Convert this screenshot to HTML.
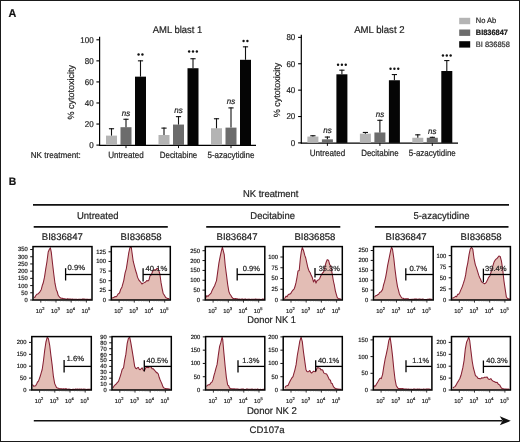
<!DOCTYPE html>
<html><head><meta charset="utf-8"><style>
html,body{margin:0;padding:0;background:#fff;}
body{width:520px;height:442px;overflow:hidden;}
.fig{position:relative;width:520px;height:442px;box-sizing:border-box;border:1px solid #1a1a1a;background:#fff;}
svg{position:absolute;left:-1px;top:-1px;font-family:"Liberation Sans", sans-serif;will-change:transform;text-rendering:geometricPrecision;}
</style></head><body><div class="fig">
<svg width="520" height="442" viewBox="0 0 520 442">
<text transform="translate(8.6,16.8) scale(1,1.05)" font-size="10.8" text-anchor="start" font-weight="bold" fill="#111" stroke="#222" stroke-width="0.2">A</text>
<text transform="translate(8.8,185.4) scale(1,1.05)" font-size="10.4" text-anchor="start" font-weight="bold" fill="#111" stroke="#222" stroke-width="0.2">B</text>
<line x1="99.6" y1="36.8" x2="99.6" y2="145.6" stroke="#000" stroke-width="1.2"/>
<line x1="99.1" y1="145.29999999999998" x2="256" y2="145.29999999999998" stroke="#000" stroke-width="1.3"/>
<line x1="96.4" y1="145.1" x2="100" y2="145.1" stroke="#000" stroke-width="1.1"/>
<text transform="translate(93.6,147.9) scale(1,1.05)" font-size="8.0" text-anchor="end" fill="#1e1e1e" stroke="#222" stroke-width="0.2">0</text>
<line x1="96.4" y1="124.03999999999999" x2="100" y2="124.03999999999999" stroke="#000" stroke-width="1.1"/>
<text transform="translate(93.6,126.83999999999999) scale(1,1.05)" font-size="8.0" text-anchor="end" fill="#1e1e1e" stroke="#222" stroke-width="0.2">20</text>
<line x1="96.4" y1="102.97999999999999" x2="100" y2="102.97999999999999" stroke="#000" stroke-width="1.1"/>
<text transform="translate(93.6,105.77999999999999) scale(1,1.05)" font-size="8.0" text-anchor="end" fill="#1e1e1e" stroke="#222" stroke-width="0.2">40</text>
<line x1="96.4" y1="81.92" x2="100" y2="81.92" stroke="#000" stroke-width="1.1"/>
<text transform="translate(93.6,84.72) scale(1,1.05)" font-size="8.0" text-anchor="end" fill="#1e1e1e" stroke="#222" stroke-width="0.2">60</text>
<line x1="96.4" y1="60.86" x2="100" y2="60.86" stroke="#000" stroke-width="1.1"/>
<text transform="translate(93.6,63.66) scale(1,1.05)" font-size="8.0" text-anchor="end" fill="#1e1e1e" stroke="#222" stroke-width="0.2">80</text>
<line x1="96.4" y1="39.8" x2="100" y2="39.8" stroke="#000" stroke-width="1.1"/>
<text transform="translate(93.6,42.599999999999994) scale(1,1.05)" font-size="8.0" text-anchor="end" fill="#1e1e1e" stroke="#222" stroke-width="0.2">100</text>
<text x="0" y="0" font-size="9.0" text-anchor="middle" fill="#1e1e1e" stroke="#222" stroke-width="0.2" textLength="54.4" lengthAdjust="spacingAndGlyphs" transform="translate(74.1,92.2) rotate(-90)">% cytotoxicity</text>
<text transform="translate(152.7,33.2) scale(1,1.05)" font-size="9.4" text-anchor="start" fill="#1e1e1e" textLength="49.6" lengthAdjust="spacingAndGlyphs" stroke="#222" stroke-width="0.2">AML blast 1</text>
<rect x="106.0" y="135.623" width="11" height="9.477000000000004" fill="#b4b4b4"/>
<line x1="111.5" y1="128.252" x2="111.5" y2="135.623" stroke="#111" stroke-width="1.1"/>
<line x1="108.9" y1="128.752" x2="114.1" y2="128.752" stroke="#111" stroke-width="1.1"/>
<rect x="120.5" y="127.199" width="11" height="17.900999999999996" fill="#6c6c6c"/>
<line x1="126.0" y1="118.77499999999999" x2="126.0" y2="127.199" stroke="#111" stroke-width="1.1"/>
<line x1="123.4" y1="119.27499999999999" x2="128.6" y2="119.27499999999999" stroke="#111" stroke-width="1.1"/>
<rect x="135.0" y="76.655" width="11" height="68.445" fill="#050505"/>
<line x1="140.5" y1="60.3335" x2="140.5" y2="76.655" stroke="#111" stroke-width="1.1"/>
<line x1="137.9" y1="60.8335" x2="143.1" y2="60.8335" stroke="#111" stroke-width="1.1"/>
<line x1="126" y1="145.1" x2="126" y2="148.1" stroke="#111" stroke-width="1"/>
<text transform="translate(126,115.57499999999999) scale(1,1.05)" font-size="8" text-anchor="middle" font-style="italic" fill="#1e1e1e" stroke="#222" stroke-width="0.2">ns</text>
<circle cx="138.57" cy="54.5" r="1.2" fill="#111"/>
<circle cx="142.43" cy="54.5" r="1.2" fill="#111"/>
<text transform="translate(126,158.3) scale(1,1.05)" font-size="8.5" text-anchor="middle" fill="#1e1e1e" textLength="35.5" lengthAdjust="spacingAndGlyphs" stroke="#222" stroke-width="0.2">Untreated</text>
<rect x="158.5" y="134.9912" width="11" height="10.108800000000002" fill="#b4b4b4"/>
<line x1="164.0" y1="127.6202" x2="164.0" y2="134.9912" stroke="#111" stroke-width="1.1"/>
<line x1="161.4" y1="128.1202" x2="166.6" y2="128.1202" stroke="#111" stroke-width="1.1"/>
<rect x="173.0" y="124.56649999999999" width="11" height="20.533500000000004" fill="#6c6c6c"/>
<line x1="178.5" y1="116.1425" x2="178.5" y2="124.56649999999999" stroke="#111" stroke-width="1.1"/>
<line x1="175.9" y1="116.6425" x2="181.1" y2="116.6425" stroke="#111" stroke-width="1.1"/>
<rect x="187.5" y="68.231" width="11" height="76.869" fill="#050505"/>
<line x1="193.0" y1="58.227500000000006" x2="193.0" y2="68.231" stroke="#111" stroke-width="1.1"/>
<line x1="190.4" y1="58.727500000000006" x2="195.6" y2="58.727500000000006" stroke="#111" stroke-width="1.1"/>
<line x1="178.5" y1="145.1" x2="178.5" y2="148.1" stroke="#111" stroke-width="1"/>
<text transform="translate(178.5,112.9425) scale(1,1.05)" font-size="8" text-anchor="middle" font-style="italic" fill="#1e1e1e" stroke="#222" stroke-width="0.2">ns</text>
<circle cx="189.15" cy="51.5" r="1.2" fill="#111"/>
<circle cx="193.00" cy="51.5" r="1.2" fill="#111"/>
<circle cx="196.85" cy="51.5" r="1.2" fill="#111"/>
<text transform="translate(178.5,158.3) scale(1,1.05)" font-size="8.5" text-anchor="middle" fill="#1e1e1e" textLength="37.5" lengthAdjust="spacingAndGlyphs" stroke="#222" stroke-width="0.2">Decitabine</text>
<rect x="211.0" y="128.252" width="11" height="16.847999999999985" fill="#b4b4b4"/>
<line x1="216.5" y1="118.24849999999999" x2="216.5" y2="128.252" stroke="#111" stroke-width="1.1"/>
<line x1="213.9" y1="118.74849999999999" x2="219.1" y2="118.74849999999999" stroke="#111" stroke-width="1.1"/>
<rect x="225.5" y="127.6202" width="11" height="17.479799999999997" fill="#6c6c6c"/>
<line x1="231.0" y1="107.4026" x2="231.0" y2="127.6202" stroke="#111" stroke-width="1.1"/>
<line x1="228.4" y1="107.9026" x2="233.6" y2="107.9026" stroke="#111" stroke-width="1.1"/>
<rect x="240.0" y="59.807" width="11" height="85.29299999999999" fill="#050505"/>
<line x1="245.5" y1="46.32860000000001" x2="245.5" y2="59.807" stroke="#111" stroke-width="1.1"/>
<line x1="242.9" y1="46.82860000000001" x2="248.1" y2="46.82860000000001" stroke="#111" stroke-width="1.1"/>
<line x1="231" y1="145.1" x2="231" y2="148.1" stroke="#111" stroke-width="1"/>
<text transform="translate(231,104.2026) scale(1,1.05)" font-size="8" text-anchor="middle" font-style="italic" fill="#1e1e1e" stroke="#222" stroke-width="0.2">ns</text>
<circle cx="243.57" cy="41" r="1.2" fill="#111"/>
<circle cx="247.43" cy="41" r="1.2" fill="#111"/>
<text transform="translate(231,158.3) scale(1,1.05)" font-size="8.5" text-anchor="middle" fill="#1e1e1e" textLength="47" lengthAdjust="spacingAndGlyphs" stroke="#222" stroke-width="0.2">5-azacytidine</text>
<line x1="301.3" y1="34.8" x2="301.3" y2="143.4" stroke="#000" stroke-width="1.2"/>
<line x1="300.8" y1="143.1" x2="458" y2="143.1" stroke="#000" stroke-width="1.3"/>
<line x1="298.09999999999997" y1="142.9" x2="301.7" y2="142.9" stroke="#000" stroke-width="1.1"/>
<text transform="translate(295.3,145.70000000000002) scale(1,1.05)" font-size="8.0" text-anchor="end" fill="#1e1e1e" stroke="#222" stroke-width="0.2">0</text>
<line x1="298.09999999999997" y1="116.52000000000001" x2="301.7" y2="116.52000000000001" stroke="#000" stroke-width="1.1"/>
<text transform="translate(295.3,119.32000000000001) scale(1,1.05)" font-size="8.0" text-anchor="end" fill="#1e1e1e" stroke="#222" stroke-width="0.2">20</text>
<line x1="298.09999999999997" y1="90.14000000000001" x2="301.7" y2="90.14000000000001" stroke="#000" stroke-width="1.1"/>
<text transform="translate(295.3,92.94000000000001) scale(1,1.05)" font-size="8.0" text-anchor="end" fill="#1e1e1e" stroke="#222" stroke-width="0.2">40</text>
<line x1="298.09999999999997" y1="63.760000000000005" x2="301.7" y2="63.760000000000005" stroke="#000" stroke-width="1.1"/>
<text transform="translate(295.3,66.56) scale(1,1.05)" font-size="8.0" text-anchor="end" fill="#1e1e1e" stroke="#222" stroke-width="0.2">60</text>
<line x1="298.09999999999997" y1="37.38000000000001" x2="301.7" y2="37.38000000000001" stroke="#000" stroke-width="1.1"/>
<text transform="translate(295.3,40.18000000000001) scale(1,1.05)" font-size="8.0" text-anchor="end" fill="#1e1e1e" stroke="#222" stroke-width="0.2">80</text>
<text x="0" y="0" font-size="9.0" text-anchor="middle" fill="#1e1e1e" stroke="#222" stroke-width="0.2" textLength="54.4" lengthAdjust="spacingAndGlyphs" transform="translate(280.2,89.95) rotate(-90)">% cytotoxicity</text>
<text transform="translate(354.2,33.2) scale(1,1.05)" font-size="9.4" text-anchor="start" fill="#1e1e1e" textLength="50.4" lengthAdjust="spacingAndGlyphs" stroke="#222" stroke-width="0.2">AML blast 2</text>
<rect x="307.4" y="136.5688" width="11" height="6.3311999999999955" fill="#b4b4b4"/>
<line x1="312.9" y1="135.2498" x2="312.9" y2="136.5688" stroke="#111" stroke-width="1.1"/>
<line x1="310.29999999999995" y1="135.7498" x2="315.5" y2="135.7498" stroke="#111" stroke-width="1.1"/>
<rect x="321.9" y="139.33870000000002" width="11" height="3.5612999999999886" fill="#6c6c6c"/>
<line x1="327.4" y1="136.5688" x2="327.4" y2="139.33870000000002" stroke="#111" stroke-width="1.1"/>
<line x1="324.79999999999995" y1="137.0688" x2="330.0" y2="137.0688" stroke="#111" stroke-width="1.1"/>
<rect x="336.4" y="74.31200000000001" width="11" height="68.588" fill="#050505"/>
<line x1="341.9" y1="69.69550000000001" x2="341.9" y2="74.31200000000001" stroke="#111" stroke-width="1.1"/>
<line x1="339.29999999999995" y1="70.19550000000001" x2="344.5" y2="70.19550000000001" stroke="#111" stroke-width="1.1"/>
<line x1="327.4" y1="142.9" x2="327.4" y2="145.9" stroke="#111" stroke-width="1"/>
<text transform="translate(327.4,133.36880000000002) scale(1,1.05)" font-size="8" text-anchor="middle" font-style="italic" fill="#1e1e1e" stroke="#222" stroke-width="0.2">ns</text>
<circle cx="338.05" cy="64.7" r="1.2" fill="#111"/>
<circle cx="341.90" cy="64.7" r="1.2" fill="#111"/>
<circle cx="345.75" cy="64.7" r="1.2" fill="#111"/>
<text transform="translate(327.4,155.8) scale(1,1.05)" font-size="8.5" text-anchor="middle" fill="#1e1e1e" textLength="35.5" lengthAdjust="spacingAndGlyphs" stroke="#222" stroke-width="0.2">Untreated</text>
<rect x="359.9" y="133.667" width="11" height="9.233000000000004" fill="#b4b4b4"/>
<line x1="365.4" y1="131.9523" x2="365.4" y2="133.667" stroke="#111" stroke-width="1.1"/>
<line x1="362.79999999999995" y1="132.4523" x2="368.0" y2="132.4523" stroke="#111" stroke-width="1.1"/>
<rect x="374.4" y="132.47990000000001" width="11" height="10.42009999999999" fill="#6c6c6c"/>
<line x1="379.9" y1="119.81750000000001" x2="379.9" y2="132.47990000000001" stroke="#111" stroke-width="1.1"/>
<line x1="377.29999999999995" y1="120.31750000000001" x2="382.5" y2="120.31750000000001" stroke="#111" stroke-width="1.1"/>
<rect x="388.9" y="80.2475" width="11" height="62.6525" fill="#050505"/>
<line x1="394.4" y1="74.04820000000001" x2="394.4" y2="80.2475" stroke="#111" stroke-width="1.1"/>
<line x1="391.79999999999995" y1="74.54820000000001" x2="397.0" y2="74.54820000000001" stroke="#111" stroke-width="1.1"/>
<line x1="379.9" y1="142.9" x2="379.9" y2="145.9" stroke="#111" stroke-width="1"/>
<text transform="translate(379.9,116.6175) scale(1,1.05)" font-size="8" text-anchor="middle" font-style="italic" fill="#1e1e1e" stroke="#222" stroke-width="0.2">ns</text>
<circle cx="390.55" cy="68.8" r="1.2" fill="#111"/>
<circle cx="394.40" cy="68.8" r="1.2" fill="#111"/>
<circle cx="398.25" cy="68.8" r="1.2" fill="#111"/>
<text transform="translate(379.9,155.8) scale(1,1.05)" font-size="8.5" text-anchor="middle" fill="#1e1e1e" textLength="37.5" lengthAdjust="spacingAndGlyphs" stroke="#222" stroke-width="0.2">Decitabine</text>
<rect x="412.3" y="137.7559" width="11" height="5.144100000000009" fill="#b4b4b4"/>
<line x1="417.8" y1="134.3265" x2="417.8" y2="137.7559" stroke="#111" stroke-width="1.1"/>
<line x1="415.2" y1="134.8265" x2="420.40000000000003" y2="134.8265" stroke="#111" stroke-width="1.1"/>
<rect x="426.8" y="137.7559" width="11" height="5.144100000000009" fill="#6c6c6c"/>
<line x1="432.3" y1="136.8326" x2="432.3" y2="137.7559" stroke="#111" stroke-width="1.1"/>
<line x1="429.7" y1="137.3326" x2="434.90000000000003" y2="137.3326" stroke="#111" stroke-width="1.1"/>
<rect x="441.3" y="71.01450000000001" width="11" height="71.8855" fill="#050505"/>
<line x1="446.8" y1="60.066800000000015" x2="446.8" y2="71.01450000000001" stroke="#111" stroke-width="1.1"/>
<line x1="444.2" y1="60.566800000000015" x2="449.40000000000003" y2="60.566800000000015" stroke="#111" stroke-width="1.1"/>
<line x1="432.3" y1="142.9" x2="432.3" y2="145.9" stroke="#111" stroke-width="1"/>
<text transform="translate(432.3,133.63260000000002) scale(1,1.05)" font-size="8" text-anchor="middle" font-style="italic" fill="#1e1e1e" stroke="#222" stroke-width="0.2">ns</text>
<circle cx="442.95" cy="55.5" r="1.2" fill="#111"/>
<circle cx="446.80" cy="55.5" r="1.2" fill="#111"/>
<circle cx="450.65" cy="55.5" r="1.2" fill="#111"/>
<text transform="translate(432.3,155.8) scale(1,1.05)" font-size="8.5" text-anchor="middle" fill="#1e1e1e" textLength="47" lengthAdjust="spacingAndGlyphs" stroke="#222" stroke-width="0.2">5-azacytidine</text>
<text transform="translate(30.7,158) scale(1,1.05)" font-size="8.3" text-anchor="start" fill="#1e1e1e" textLength="50" lengthAdjust="spacingAndGlyphs" stroke="#222" stroke-width="0.2">NK treatment:</text>
<rect x="459.2" y="17.8" width="11" height="6.4" fill="#b4b4b4"/>
<text transform="translate(475.8,23.4) scale(1,1.05)" font-size="7.4" text-anchor="start" fill="#2a2a2a" textLength="20.4" lengthAdjust="spacingAndGlyphs" stroke="#222" stroke-width="0.2">No Ab</text>
<rect x="459.2" y="29.5" width="11" height="6.4" fill="#6c6c6c"/>
<text transform="translate(475.8,35.1) scale(1,1.05)" font-size="7.4" text-anchor="start" font-weight="bold" fill="#111" textLength="32.1" lengthAdjust="spacingAndGlyphs" stroke="#222" stroke-width="0.2">BI836847</text>
<rect x="459.2" y="41.2" width="11" height="6.4" fill="#050505"/>
<text transform="translate(475.8,46.800000000000004) scale(1,1.05)" font-size="7.4" text-anchor="start" fill="#333" textLength="34.1" lengthAdjust="spacingAndGlyphs" stroke="#222" stroke-width="0.2">BI 836858</text>
<text transform="translate(243,196.6) scale(1,1.05)" font-size="9.3" text-anchor="start" fill="#1e1e1e" textLength="55.4" lengthAdjust="spacingAndGlyphs" stroke="#222" stroke-width="0.2">NK treatment</text>
<line x1="33" y1="204.9" x2="509" y2="204.9" stroke="#111" stroke-width="1.6"/>
<text transform="translate(76.9,219.4) scale(1,1.05)" font-size="9.5" text-anchor="start" fill="#1e1e1e" textLength="41.6" lengthAdjust="spacingAndGlyphs" stroke="#222" stroke-width="0.2">Untreated</text>
<line x1="33.7" y1="226.9" x2="167.8" y2="226.9" stroke="#111" stroke-width="1.6"/>
<text transform="translate(250.3,219.4) scale(1,1.05)" font-size="9.5" text-anchor="start" fill="#1e1e1e" textLength="44.7" lengthAdjust="spacingAndGlyphs" stroke="#222" stroke-width="0.2">Decitabine</text>
<line x1="206.2" y1="226.9" x2="340.3" y2="226.9" stroke="#111" stroke-width="1.6"/>
<text transform="translate(413.4,219.4) scale(1,1.05)" font-size="9.5" text-anchor="start" fill="#1e1e1e" textLength="56.1" lengthAdjust="spacingAndGlyphs" stroke="#222" stroke-width="0.2">5-azacytidine</text>
<line x1="374.9" y1="226.9" x2="508.5" y2="226.9" stroke="#111" stroke-width="1.6"/>
<text transform="translate(41.8,239.9) scale(1,1.05)" font-size="9.2" text-anchor="start" fill="#1e1e1e" textLength="41" lengthAdjust="spacingAndGlyphs" stroke="#222" stroke-width="0.2">BI836847</text>
<text transform="translate(120.6,239.9) scale(1,1.05)" font-size="9.2" text-anchor="start" fill="#1e1e1e" textLength="41" lengthAdjust="spacingAndGlyphs" stroke="#222" stroke-width="0.2">BI836858</text>
<text transform="translate(216.5,239.9) scale(1,1.05)" font-size="9.2" text-anchor="start" fill="#1e1e1e" textLength="41" lengthAdjust="spacingAndGlyphs" stroke="#222" stroke-width="0.2">BI836847</text>
<text transform="translate(294.40000000000003,239.9) scale(1,1.05)" font-size="9.2" text-anchor="start" fill="#1e1e1e" textLength="41" lengthAdjust="spacingAndGlyphs" stroke="#222" stroke-width="0.2">BI836858</text>
<text transform="translate(385.6,239.9) scale(1,1.05)" font-size="9.2" text-anchor="start" fill="#1e1e1e" textLength="41" lengthAdjust="spacingAndGlyphs" stroke="#222" stroke-width="0.2">BI836847</text>
<text transform="translate(460.6,239.9) scale(1,1.05)" font-size="9.2" text-anchor="start" fill="#1e1e1e" textLength="41" lengthAdjust="spacingAndGlyphs" stroke="#222" stroke-width="0.2">BI836858</text>
<path d="M33.8,300 L33.9,297.36 L34.93,297.18 L35.97,295.28 L37.0,294.21 L38.25,293.7 L39.5,292.44 L41.3,289.43 L42.25,285.54 L43.2,283.02 L44.5,277.2 L45.7,269.19 L46.9,262.0 L48.2,252.0 L49.4,249.23 L50.4,247.8 L51.3,252.33 L52.5,263.28 L53.8,274.24 L55.0,283.47 L56.3,289.7 L57.25,291.74 L58.2,295.29 L59.4,296.94 L60.6,298.02 L61.67,298.3 L62.73,298.37 L63.8,298.76 L64.73,298.76 L65.67,298.9 L66.6,299.15 L67.53,298.76 L68.47,298.99 L69.4,299.05 L70.33,298.98 L71.27,299.25 L72.2,299.14 L73.13,299.24 L74.07,299.23 L75.0,299.23 L75.91,299.23 L76.82,299.19 L77.73,299.42 L78.64,299.24 L79.55,299.22 L80.45,299.29 L81.36,299.46 L82.27,299.09 L83.18,299.11 L84.09,299.12 L85.0,299.26 L86.0,299.34 L87.0,299.37 L88.0,299.31 L89.0,299.46 L90.0,299.24 L91,299.3 L91,300 Z" fill="#e3bdb5" stroke="none"/>
<path d="M33.9,297.36 L34.93,297.18 L35.97,295.28 L37.0,294.21 L38.25,293.7 L39.5,292.44 L41.3,289.43 L42.25,285.54 L43.2,283.02 L44.5,277.2 L45.7,269.19 L46.9,262.0 L48.2,252.0 L49.4,249.23 L50.4,247.8 L51.3,252.33 L52.5,263.28 L53.8,274.24 L55.0,283.47 L56.3,289.7 L57.25,291.74 L58.2,295.29 L59.4,296.94 L60.6,298.02 L61.67,298.3 L62.73,298.37 L63.8,298.76 L64.73,298.76 L65.67,298.9 L66.6,299.15 L67.53,298.76 L68.47,298.99 L69.4,299.05 L70.33,298.98 L71.27,299.25 L72.2,299.14 L73.13,299.24 L74.07,299.23 L75.0,299.23 L75.91,299.23 L76.82,299.19 L77.73,299.42 L78.64,299.24 L79.55,299.22 L80.45,299.29 L81.36,299.46 L82.27,299.09 L83.18,299.11 L84.09,299.12 L85.0,299.26 L86.0,299.34 L87.0,299.37 L88.0,299.31 L89.0,299.46 L90.0,299.24 L91,299.3 L91,299.2" fill="none" stroke="#862033" stroke-width="1.05" stroke-linejoin="round"/>
<rect x="33" y="246.6" width="59" height="53.400000000000006" fill="none" stroke="#000" stroke-width="1.5"/>
<line x1="30.2" y1="300.0" x2="33" y2="300.0" stroke="#111" stroke-width="1.0"/>
<text transform="translate(27.7,301.95) scale(1,1.05)" font-size="5.8" text-anchor="end" fill="#222" stroke="#222" stroke-width="0.2">0</text>
<line x1="30.2" y1="292.79" x2="33" y2="292.79" stroke="#111" stroke-width="1.0"/>
<text transform="translate(27.7,294.74) scale(1,1.05)" font-size="5.8" text-anchor="end" fill="#222" stroke="#222" stroke-width="0.2">50</text>
<line x1="30.2" y1="285.58" x2="33" y2="285.58" stroke="#111" stroke-width="1.0"/>
<text transform="translate(27.7,287.53) scale(1,1.05)" font-size="5.8" text-anchor="end" fill="#222" stroke="#222" stroke-width="0.2">100</text>
<line x1="30.2" y1="278.37" x2="33" y2="278.37" stroke="#111" stroke-width="1.0"/>
<text transform="translate(27.7,280.32) scale(1,1.05)" font-size="5.8" text-anchor="end" fill="#222" stroke="#222" stroke-width="0.2">150</text>
<line x1="30.2" y1="271.16" x2="33" y2="271.16" stroke="#111" stroke-width="1.0"/>
<text transform="translate(27.7,273.11) scale(1,1.05)" font-size="5.8" text-anchor="end" fill="#222" stroke="#222" stroke-width="0.2">200</text>
<line x1="30.2" y1="263.95" x2="33" y2="263.95" stroke="#111" stroke-width="1.0"/>
<text transform="translate(27.7,265.9) scale(1,1.05)" font-size="5.8" text-anchor="end" fill="#222" stroke="#222" stroke-width="0.2">250</text>
<line x1="30.2" y1="256.74" x2="33" y2="256.74" stroke="#111" stroke-width="1.0"/>
<text transform="translate(27.7,258.69) scale(1,1.05)" font-size="5.8" text-anchor="end" fill="#222" stroke="#222" stroke-width="0.2">300</text>
<line x1="30.2" y1="249.53" x2="33" y2="249.53" stroke="#111" stroke-width="1.0"/>
<text transform="translate(27.7,251.48) scale(1,1.05)" font-size="5.8" text-anchor="end" fill="#222" stroke="#222" stroke-width="0.2">350</text>
<line x1="40.8" y1="300" x2="40.8" y2="302.6" stroke="#222" stroke-width="0.9"/>
<text x="40.199999999999996" y="312.8" font-size="5.8" text-anchor="middle" fill="#222" stroke="#222" stroke-width="0.2">10<tspan font-size="4.0" dy="-2.4">2</tspan></text>
<line x1="45.375655934092514" y1="300" x2="45.375655934092514" y2="301.3" stroke="#444" stroke-width="0.6"/>
<line x1="48.052243071738864" y1="300" x2="48.052243071738864" y2="301.3" stroke="#444" stroke-width="0.6"/>
<line x1="49.95131186818502" y1="300" x2="49.95131186818502" y2="301.3" stroke="#444" stroke-width="0.6"/>
<line x1="51.42434406590748" y1="300" x2="51.42434406590748" y2="301.3" stroke="#444" stroke-width="0.6"/>
<line x1="52.62789900583138" y1="300" x2="52.62789900583138" y2="301.3" stroke="#444" stroke-width="0.6"/>
<line x1="53.6454902082167" y1="300" x2="53.6454902082167" y2="301.3" stroke="#444" stroke-width="0.6"/>
<line x1="54.52696780227754" y1="300" x2="54.52696780227754" y2="301.3" stroke="#444" stroke-width="0.6"/>
<line x1="55.30448614347773" y1="300" x2="55.30448614347773" y2="301.3" stroke="#444" stroke-width="0.6"/>
<line x1="56.0" y1="300" x2="56.0" y2="302.6" stroke="#222" stroke-width="0.9"/>
<text x="55.4" y="312.8" font-size="5.8" text-anchor="middle" fill="#222" stroke="#222" stroke-width="0.2">10<tspan font-size="4.0" dy="-2.4">3</tspan></text>
<line x1="60.57565593409252" y1="300" x2="60.57565593409252" y2="301.3" stroke="#444" stroke-width="0.6"/>
<line x1="63.25224307173887" y1="300" x2="63.25224307173887" y2="301.3" stroke="#444" stroke-width="0.6"/>
<line x1="65.15131186818503" y1="300" x2="65.15131186818503" y2="301.3" stroke="#444" stroke-width="0.6"/>
<line x1="66.62434406590748" y1="300" x2="66.62434406590748" y2="301.3" stroke="#444" stroke-width="0.6"/>
<line x1="67.82789900583138" y1="300" x2="67.82789900583138" y2="301.3" stroke="#444" stroke-width="0.6"/>
<line x1="68.8454902082167" y1="300" x2="68.8454902082167" y2="301.3" stroke="#444" stroke-width="0.6"/>
<line x1="69.72696780227754" y1="300" x2="69.72696780227754" y2="301.3" stroke="#444" stroke-width="0.6"/>
<line x1="70.50448614347773" y1="300" x2="70.50448614347773" y2="301.3" stroke="#444" stroke-width="0.6"/>
<line x1="71.19999999999999" y1="300" x2="71.19999999999999" y2="302.6" stroke="#222" stroke-width="0.9"/>
<text x="70.6" y="312.8" font-size="5.8" text-anchor="middle" fill="#222" stroke="#222" stroke-width="0.2">10<tspan font-size="4.0" dy="-2.4">4</tspan></text>
<line x1="75.7756559340925" y1="300" x2="75.7756559340925" y2="301.3" stroke="#444" stroke-width="0.6"/>
<line x1="78.45224307173886" y1="300" x2="78.45224307173886" y2="301.3" stroke="#444" stroke-width="0.6"/>
<line x1="80.35131186818502" y1="300" x2="80.35131186818502" y2="301.3" stroke="#444" stroke-width="0.6"/>
<line x1="81.82434406590747" y1="300" x2="81.82434406590747" y2="301.3" stroke="#444" stroke-width="0.6"/>
<line x1="83.02789900583137" y1="300" x2="83.02789900583137" y2="301.3" stroke="#444" stroke-width="0.6"/>
<line x1="84.04549020821669" y1="300" x2="84.04549020821669" y2="301.3" stroke="#444" stroke-width="0.6"/>
<line x1="84.92696780227753" y1="300" x2="84.92696780227753" y2="301.3" stroke="#444" stroke-width="0.6"/>
<line x1="85.70448614347772" y1="300" x2="85.70448614347772" y2="301.3" stroke="#444" stroke-width="0.6"/>
<line x1="86.39999999999999" y1="300" x2="86.39999999999999" y2="302.6" stroke="#222" stroke-width="0.9"/>
<text x="85.8" y="312.8" font-size="5.8" text-anchor="middle" fill="#222" stroke="#222" stroke-width="0.2">10<tspan font-size="4.0" dy="-2.4">5</tspan></text>
<line x1="65.6" y1="268.2" x2="65.6" y2="280.5" stroke="#000" stroke-width="1.3"/>
<line x1="65.6" y1="274.5" x2="92" y2="274.5" stroke="#000" stroke-width="1.3"/>
<text transform="translate(67.5,269.6) scale(1,1.0)" font-size="7.4" text-anchor="start" fill="#222" textLength="17.5" lengthAdjust="spacingAndGlyphs" stroke="#222" stroke-width="0.2">0.9%</text>
<path d="M112.1,300 L112.0,298.05 L113.2,297.67 L114.15,297.35 L115.1,296.46 L116.05,296.79 L117.0,295.79 L118.25,293.82 L119.5,293.02 L120.75,289.14 L122.0,286.93 L123.8,280.33 L125.1,272.88 L126.3,268.81 L127.6,260.67 L128.8,252.61 L130.0,247.4 L131.3,247.2 L131.9,251.8 L133.2,261.23 L134.4,265.91 L135.7,270.79 L136.6,273.47 L137.5,277.11 L138.75,279.88 L140.0,281.38 L140.95,282.49 L141.9,283.99 L142.85,283.29 L143.8,282.87 L145.6,281.98 L146.8,280.56 L148.0,280.92 L149.0,279.83 L150.0,275.96 L151.3,274.84 L152.6,271.35 L153.9,269.7 L155.2,270.02 L156.1,269.6 L157.0,268.41 L157.9,268.49 L158.85,270.81 L159.8,273.74 L161.1,282.91 L162.1,288.34 L163.1,293.15 L164.4,295.32 L165.7,297.56 L166.6,297.91 L167.5,298.5 L168.4,298.5 L168.4,300 Z" fill="#e3bdb5" stroke="none"/>
<path d="M112.0,298.05 L113.2,297.67 L114.15,297.35 L115.1,296.46 L116.05,296.79 L117.0,295.79 L118.25,293.82 L119.5,293.02 L120.75,289.14 L122.0,286.93 L123.8,280.33 L125.1,272.88 L126.3,268.81 L127.6,260.67 L128.8,252.61 L130.0,247.4 L131.3,247.2 L131.9,251.8 L133.2,261.23 L134.4,265.91 L135.7,270.79 L136.6,273.47 L137.5,277.11 L138.75,279.88 L140.0,281.38 L140.95,282.49 L141.9,283.99 L142.85,283.29 L143.8,282.87 L145.6,281.98 L146.8,280.56 L148.0,280.92 L149.0,279.83 L150.0,275.96 L151.3,274.84 L152.6,271.35 L153.9,269.7 L155.2,270.02 L156.1,269.6 L157.0,268.41 L157.9,268.49 L158.85,270.81 L159.8,273.74 L161.1,282.91 L162.1,288.34 L163.1,293.15 L164.4,295.32 L165.7,297.56 L166.6,297.91 L167.5,298.5 L168.4,298.5 L169.3,299.2" fill="none" stroke="#862033" stroke-width="1.05" stroke-linejoin="round"/>
<rect x="111.3" y="246.6" width="59.000000000000014" height="53.400000000000006" fill="none" stroke="#000" stroke-width="1.5"/>
<line x1="108.5" y1="300.0" x2="111.3" y2="300.0" stroke="#111" stroke-width="1.0"/>
<text transform="translate(106.0,301.95) scale(1,1.05)" font-size="5.8" text-anchor="end" fill="#222" stroke="#222" stroke-width="0.2">0</text>
<line x1="108.5" y1="290.36" x2="111.3" y2="290.36" stroke="#111" stroke-width="1.0"/>
<text transform="translate(106.0,292.31) scale(1,1.05)" font-size="5.8" text-anchor="end" fill="#222" stroke="#222" stroke-width="0.2">25</text>
<line x1="108.5" y1="280.72" x2="111.3" y2="280.72" stroke="#111" stroke-width="1.0"/>
<text transform="translate(106.0,282.67) scale(1,1.05)" font-size="5.8" text-anchor="end" fill="#222" stroke="#222" stroke-width="0.2">50</text>
<line x1="108.5" y1="271.08" x2="111.3" y2="271.08" stroke="#111" stroke-width="1.0"/>
<text transform="translate(106.0,273.03) scale(1,1.05)" font-size="5.8" text-anchor="end" fill="#222" stroke="#222" stroke-width="0.2">75</text>
<line x1="108.5" y1="261.44" x2="111.3" y2="261.44" stroke="#111" stroke-width="1.0"/>
<text transform="translate(106.0,263.39) scale(1,1.05)" font-size="5.8" text-anchor="end" fill="#222" stroke="#222" stroke-width="0.2">100</text>
<line x1="108.5" y1="251.8" x2="111.3" y2="251.8" stroke="#111" stroke-width="1.0"/>
<text transform="translate(106.0,253.75) scale(1,1.05)" font-size="5.8" text-anchor="end" fill="#222" stroke="#222" stroke-width="0.2">125</text>
<line x1="119.1" y1="300" x2="119.1" y2="302.6" stroke="#222" stroke-width="0.9"/>
<text x="118.5" y="312.8" font-size="5.8" text-anchor="middle" fill="#222" stroke="#222" stroke-width="0.2">10<tspan font-size="4.0" dy="-2.4">2</tspan></text>
<line x1="123.6756559340925" y1="300" x2="123.6756559340925" y2="301.3" stroke="#444" stroke-width="0.6"/>
<line x1="126.35224307173887" y1="300" x2="126.35224307173887" y2="301.3" stroke="#444" stroke-width="0.6"/>
<line x1="128.251311868185" y1="300" x2="128.251311868185" y2="301.3" stroke="#444" stroke-width="0.6"/>
<line x1="129.72434406590747" y1="300" x2="129.72434406590747" y2="301.3" stroke="#444" stroke-width="0.6"/>
<line x1="130.92789900583136" y1="300" x2="130.92789900583136" y2="301.3" stroke="#444" stroke-width="0.6"/>
<line x1="131.9454902082167" y1="300" x2="131.9454902082167" y2="301.3" stroke="#444" stroke-width="0.6"/>
<line x1="132.82696780227752" y1="300" x2="132.82696780227752" y2="301.3" stroke="#444" stroke-width="0.6"/>
<line x1="133.60448614347774" y1="300" x2="133.60448614347774" y2="301.3" stroke="#444" stroke-width="0.6"/>
<line x1="134.29999999999998" y1="300" x2="134.29999999999998" y2="302.6" stroke="#222" stroke-width="0.9"/>
<text x="133.7" y="312.8" font-size="5.8" text-anchor="middle" fill="#222" stroke="#222" stroke-width="0.2">10<tspan font-size="4.0" dy="-2.4">3</tspan></text>
<line x1="138.8756559340925" y1="300" x2="138.8756559340925" y2="301.3" stroke="#444" stroke-width="0.6"/>
<line x1="141.55224307173884" y1="300" x2="141.55224307173884" y2="301.3" stroke="#444" stroke-width="0.6"/>
<line x1="143.451311868185" y1="300" x2="143.451311868185" y2="301.3" stroke="#444" stroke-width="0.6"/>
<line x1="144.92434406590746" y1="300" x2="144.92434406590746" y2="301.3" stroke="#444" stroke-width="0.6"/>
<line x1="146.12789900583135" y1="300" x2="146.12789900583135" y2="301.3" stroke="#444" stroke-width="0.6"/>
<line x1="147.1454902082167" y1="300" x2="147.1454902082167" y2="301.3" stroke="#444" stroke-width="0.6"/>
<line x1="148.0269678022775" y1="300" x2="148.0269678022775" y2="301.3" stroke="#444" stroke-width="0.6"/>
<line x1="148.80448614347773" y1="300" x2="148.80448614347773" y2="301.3" stroke="#444" stroke-width="0.6"/>
<line x1="149.5" y1="300" x2="149.5" y2="302.6" stroke="#222" stroke-width="0.9"/>
<text x="148.9" y="312.8" font-size="5.8" text-anchor="middle" fill="#222" stroke="#222" stroke-width="0.2">10<tspan font-size="4.0" dy="-2.4">4</tspan></text>
<line x1="154.0756559340925" y1="300" x2="154.0756559340925" y2="301.3" stroke="#444" stroke-width="0.6"/>
<line x1="156.75224307173886" y1="300" x2="156.75224307173886" y2="301.3" stroke="#444" stroke-width="0.6"/>
<line x1="158.65131186818502" y1="300" x2="158.65131186818502" y2="301.3" stroke="#444" stroke-width="0.6"/>
<line x1="160.12434406590748" y1="300" x2="160.12434406590748" y2="301.3" stroke="#444" stroke-width="0.6"/>
<line x1="161.32789900583137" y1="300" x2="161.32789900583137" y2="301.3" stroke="#444" stroke-width="0.6"/>
<line x1="162.3454902082167" y1="300" x2="162.3454902082167" y2="301.3" stroke="#444" stroke-width="0.6"/>
<line x1="163.22696780227753" y1="300" x2="163.22696780227753" y2="301.3" stroke="#444" stroke-width="0.6"/>
<line x1="164.00448614347775" y1="300" x2="164.00448614347775" y2="301.3" stroke="#444" stroke-width="0.6"/>
<line x1="164.7" y1="300" x2="164.7" y2="302.6" stroke="#222" stroke-width="0.9"/>
<text x="164.1" y="312.8" font-size="5.8" text-anchor="middle" fill="#222" stroke="#222" stroke-width="0.2">10<tspan font-size="4.0" dy="-2.4">5</tspan></text>
<line x1="143.1" y1="268.2" x2="143.1" y2="281.5" stroke="#000" stroke-width="1.3"/>
<line x1="143.1" y1="274.5" x2="170.3" y2="274.5" stroke="#000" stroke-width="1.3"/>
<text transform="translate(145.5,270.7) scale(1,1.0)" font-size="7.4" text-anchor="start" fill="#222" textLength="21.8" lengthAdjust="spacingAndGlyphs" stroke="#222" stroke-width="0.2">40.1%</text>
<path d="M206.10000000000002,300 L205.9,297.51 L206.93,295.6 L207.97,296.4 L209.0,295.11 L210.03,294.2 L211.07,293.13 L212.1,290.4 L213.35,288.02 L214.6,285.77 L215.55,283.11 L216.5,280.57 L217.7,271.82 L218.9,263.07 L220.2,256.37 L221.4,250.82 L222.4,247.2 L223.3,250.84 L224.2,254.31 L225.2,265.21 L226.4,274.41 L227.7,284.6 L228.9,291.58 L229.85,293.93 L230.8,295.28 L232.05,297.51 L233.3,298.6 L234.26,298.8 L235.21,298.6 L236.17,298.8 L237.13,298.72 L238.09,299.16 L239.04,299.05 L240.0,299.24 L240.92,299.23 L241.85,299.08 L242.77,299.06 L243.69,299.43 L244.62,299.14 L245.54,299.0 L246.46,299.47 L247.38,299.3 L248.31,299.28 L249.23,299.14 L250.15,299.48 L251.08,299.3 L252.0,299.19 L252.92,299.23 L253.85,299.27 L254.77,299.3 L255.69,299.09 L256.62,299.24 L257.54,299.27 L258.46,299.29 L259.38,299.23 L260.31,299.38 L261.23,299.42 L262.15,299.13 L263.08,299.06 L264,299.3 L264,300 Z" fill="#e3bdb5" stroke="none"/>
<path d="M205.9,297.51 L206.93,295.6 L207.97,296.4 L209.0,295.11 L210.03,294.2 L211.07,293.13 L212.1,290.4 L213.35,288.02 L214.6,285.77 L215.55,283.11 L216.5,280.57 L217.7,271.82 L218.9,263.07 L220.2,256.37 L221.4,250.82 L222.4,247.2 L223.3,250.84 L224.2,254.31 L225.2,265.21 L226.4,274.41 L227.7,284.6 L228.9,291.58 L229.85,293.93 L230.8,295.28 L232.05,297.51 L233.3,298.6 L234.26,298.8 L235.21,298.6 L236.17,298.8 L237.13,298.72 L238.09,299.16 L239.04,299.05 L240.0,299.24 L240.92,299.23 L241.85,299.08 L242.77,299.06 L243.69,299.43 L244.62,299.14 L245.54,299.0 L246.46,299.47 L247.38,299.3 L248.31,299.28 L249.23,299.14 L250.15,299.48 L251.08,299.3 L252.0,299.19 L252.92,299.23 L253.85,299.27 L254.77,299.3 L255.69,299.09 L256.62,299.24 L257.54,299.27 L258.46,299.29 L259.38,299.23 L260.31,299.38 L261.23,299.42 L262.15,299.13 L263.08,299.06 L264,299.3 L263.8,299.2" fill="none" stroke="#862033" stroke-width="1.05" stroke-linejoin="round"/>
<rect x="205.3" y="246.6" width="59.5" height="53.400000000000006" fill="none" stroke="#000" stroke-width="1.5"/>
<line x1="202.5" y1="300.0" x2="205.3" y2="300.0" stroke="#111" stroke-width="1.0"/>
<text transform="translate(200.0,301.95) scale(1,1.05)" font-size="5.8" text-anchor="end" fill="#222" stroke="#222" stroke-width="0.2">0</text>
<line x1="202.5" y1="290.14" x2="205.3" y2="290.14" stroke="#111" stroke-width="1.0"/>
<text transform="translate(200.0,292.09) scale(1,1.05)" font-size="5.8" text-anchor="end" fill="#222" stroke="#222" stroke-width="0.2">50</text>
<line x1="202.5" y1="280.28" x2="205.3" y2="280.28" stroke="#111" stroke-width="1.0"/>
<text transform="translate(200.0,282.22999999999996) scale(1,1.05)" font-size="5.8" text-anchor="end" fill="#222" stroke="#222" stroke-width="0.2">100</text>
<line x1="202.5" y1="270.42" x2="205.3" y2="270.42" stroke="#111" stroke-width="1.0"/>
<text transform="translate(200.0,272.37) scale(1,1.05)" font-size="5.8" text-anchor="end" fill="#222" stroke="#222" stroke-width="0.2">150</text>
<line x1="202.5" y1="260.56" x2="205.3" y2="260.56" stroke="#111" stroke-width="1.0"/>
<text transform="translate(200.0,262.51) scale(1,1.05)" font-size="5.8" text-anchor="end" fill="#222" stroke="#222" stroke-width="0.2">200</text>
<line x1="202.5" y1="250.7" x2="205.3" y2="250.7" stroke="#111" stroke-width="1.0"/>
<text transform="translate(200.0,252.64999999999998) scale(1,1.05)" font-size="5.8" text-anchor="end" fill="#222" stroke="#222" stroke-width="0.2">250</text>
<line x1="213.10000000000002" y1="300" x2="213.10000000000002" y2="302.6" stroke="#222" stroke-width="0.9"/>
<text x="212.50000000000003" y="312.8" font-size="5.8" text-anchor="middle" fill="#222" stroke="#222" stroke-width="0.2">10<tspan font-size="4.0" dy="-2.4">2</tspan></text>
<line x1="217.67565593409253" y1="300" x2="217.67565593409253" y2="301.3" stroke="#444" stroke-width="0.6"/>
<line x1="220.35224307173888" y1="300" x2="220.35224307173888" y2="301.3" stroke="#444" stroke-width="0.6"/>
<line x1="222.25131186818504" y1="300" x2="222.25131186818504" y2="301.3" stroke="#444" stroke-width="0.6"/>
<line x1="223.7243440659075" y1="300" x2="223.7243440659075" y2="301.3" stroke="#444" stroke-width="0.6"/>
<line x1="224.9278990058314" y1="300" x2="224.9278990058314" y2="301.3" stroke="#444" stroke-width="0.6"/>
<line x1="225.9454902082167" y1="300" x2="225.9454902082167" y2="301.3" stroke="#444" stroke-width="0.6"/>
<line x1="226.82696780227755" y1="300" x2="226.82696780227755" y2="301.3" stroke="#444" stroke-width="0.6"/>
<line x1="227.60448614347777" y1="300" x2="227.60448614347777" y2="301.3" stroke="#444" stroke-width="0.6"/>
<line x1="228.3" y1="300" x2="228.3" y2="302.6" stroke="#222" stroke-width="0.9"/>
<text x="227.70000000000002" y="312.8" font-size="5.8" text-anchor="middle" fill="#222" stroke="#222" stroke-width="0.2">10<tspan font-size="4.0" dy="-2.4">3</tspan></text>
<line x1="232.87565593409252" y1="300" x2="232.87565593409252" y2="301.3" stroke="#444" stroke-width="0.6"/>
<line x1="235.55224307173887" y1="300" x2="235.55224307173887" y2="301.3" stroke="#444" stroke-width="0.6"/>
<line x1="237.45131186818503" y1="300" x2="237.45131186818503" y2="301.3" stroke="#444" stroke-width="0.6"/>
<line x1="238.9243440659075" y1="300" x2="238.9243440659075" y2="301.3" stroke="#444" stroke-width="0.6"/>
<line x1="240.12789900583138" y1="300" x2="240.12789900583138" y2="301.3" stroke="#444" stroke-width="0.6"/>
<line x1="241.1454902082167" y1="300" x2="241.1454902082167" y2="301.3" stroke="#444" stroke-width="0.6"/>
<line x1="242.02696780227754" y1="300" x2="242.02696780227754" y2="301.3" stroke="#444" stroke-width="0.6"/>
<line x1="242.80448614347776" y1="300" x2="242.80448614347776" y2="301.3" stroke="#444" stroke-width="0.6"/>
<line x1="243.50000000000003" y1="300" x2="243.50000000000003" y2="302.6" stroke="#222" stroke-width="0.9"/>
<text x="242.90000000000003" y="312.8" font-size="5.8" text-anchor="middle" fill="#222" stroke="#222" stroke-width="0.2">10<tspan font-size="4.0" dy="-2.4">4</tspan></text>
<line x1="248.07565593409254" y1="300" x2="248.07565593409254" y2="301.3" stroke="#444" stroke-width="0.6"/>
<line x1="250.7522430717389" y1="300" x2="250.7522430717389" y2="301.3" stroke="#444" stroke-width="0.6"/>
<line x1="252.65131186818505" y1="300" x2="252.65131186818505" y2="301.3" stroke="#444" stroke-width="0.6"/>
<line x1="254.1243440659075" y1="300" x2="254.1243440659075" y2="301.3" stroke="#444" stroke-width="0.6"/>
<line x1="255.3278990058314" y1="300" x2="255.3278990058314" y2="301.3" stroke="#444" stroke-width="0.6"/>
<line x1="256.34549020821675" y1="300" x2="256.34549020821675" y2="301.3" stroke="#444" stroke-width="0.6"/>
<line x1="257.22696780227756" y1="300" x2="257.22696780227756" y2="301.3" stroke="#444" stroke-width="0.6"/>
<line x1="258.0044861434778" y1="300" x2="258.0044861434778" y2="301.3" stroke="#444" stroke-width="0.6"/>
<line x1="258.70000000000005" y1="300" x2="258.70000000000005" y2="302.6" stroke="#222" stroke-width="0.9"/>
<text x="258.1" y="312.8" font-size="5.8" text-anchor="middle" fill="#222" stroke="#222" stroke-width="0.2">10<tspan font-size="4.0" dy="-2.4">5</tspan></text>
<line x1="237.2" y1="268.2" x2="237.2" y2="280.5" stroke="#000" stroke-width="1.3"/>
<line x1="237.2" y1="274.5" x2="264.8" y2="274.5" stroke="#000" stroke-width="1.3"/>
<text transform="translate(242.79999999999998,270.7) scale(1,1.0)" font-size="7.4" text-anchor="start" fill="#222" textLength="17.2" lengthAdjust="spacingAndGlyphs" stroke="#222" stroke-width="0.2">0.9%</text>
<path d="M284.0,300 L284.2,298.47 L285.15,297.83 L286.1,296.11 L287.05,296.78 L288.0,294.93 L288.93,294.29 L289.85,294.14 L290.77,293.56 L291.7,291.77 L292.95,290.13 L294.2,288.78 L295.15,286.04 L296.1,282.18 L297.05,277.04 L298.0,271.02 L299.2,270.49 L300.4,258.01 L301.4,251.02 L302.3,247.47 L303.5,250.5 L304.8,255.39 L305.75,258.0 L306.7,262.37 L307.9,267.8 L309.2,271.37 L310.1,272.53 L311.0,274.81 L312.3,277.58 L313.5,281.91 L314.8,279.49 L316.0,283.11 L316.95,280.7 L317.9,280.09 L318.8,279.81 L319.7,278.5 L320.65,276.27 L321.6,274.35 L322.55,272.94 L323.5,272.03 L324.4,269.39 L325.3,265.08 L326.25,261.98 L327.2,259.66 L328.5,260.14 L329.7,264.7 L330.9,266.12 L332.2,273.82 L333.4,280.99 L334.35,285.23 L335.3,290.62 L336.25,294.12 L337.2,297.32 L338.4,298.78 L339.7,298.78 L341,299.2 L341,300 Z" fill="#e3bdb5" stroke="none"/>
<path d="M284.2,298.47 L285.15,297.83 L286.1,296.11 L287.05,296.78 L288.0,294.93 L288.93,294.29 L289.85,294.14 L290.77,293.56 L291.7,291.77 L292.95,290.13 L294.2,288.78 L295.15,286.04 L296.1,282.18 L297.05,277.04 L298.0,271.02 L299.2,270.49 L300.4,258.01 L301.4,251.02 L302.3,247.47 L303.5,250.5 L304.8,255.39 L305.75,258.0 L306.7,262.37 L307.9,267.8 L309.2,271.37 L310.1,272.53 L311.0,274.81 L312.3,277.58 L313.5,281.91 L314.8,279.49 L316.0,283.11 L316.95,280.7 L317.9,280.09 L318.8,279.81 L319.7,278.5 L320.65,276.27 L321.6,274.35 L322.55,272.94 L323.5,272.03 L324.4,269.39 L325.3,265.08 L326.25,261.98 L327.2,259.66 L328.5,260.14 L329.7,264.7 L330.9,266.12 L332.2,273.82 L333.4,280.99 L334.35,285.23 L335.3,290.62 L336.25,294.12 L337.2,297.32 L338.4,298.78 L339.7,298.78 L341,299.2 L341.3,299.2" fill="none" stroke="#862033" stroke-width="1.05" stroke-linejoin="round"/>
<rect x="283.2" y="246.6" width="59.10000000000002" height="53.400000000000006" fill="none" stroke="#000" stroke-width="1.5"/>
<line x1="280.4" y1="300.0" x2="283.2" y2="300.0" stroke="#111" stroke-width="1.0"/>
<text transform="translate(277.9,301.95) scale(1,1.05)" font-size="5.8" text-anchor="end" fill="#222" stroke="#222" stroke-width="0.2">0</text>
<line x1="280.4" y1="289.25" x2="283.2" y2="289.25" stroke="#111" stroke-width="1.0"/>
<text transform="translate(277.9,291.2) scale(1,1.05)" font-size="5.8" text-anchor="end" fill="#222" stroke="#222" stroke-width="0.2">25</text>
<line x1="280.4" y1="278.5" x2="283.2" y2="278.5" stroke="#111" stroke-width="1.0"/>
<text transform="translate(277.9,280.45) scale(1,1.05)" font-size="5.8" text-anchor="end" fill="#222" stroke="#222" stroke-width="0.2">50</text>
<line x1="280.4" y1="267.75" x2="283.2" y2="267.75" stroke="#111" stroke-width="1.0"/>
<text transform="translate(277.9,269.7) scale(1,1.05)" font-size="5.8" text-anchor="end" fill="#222" stroke="#222" stroke-width="0.2">75</text>
<line x1="280.4" y1="257.0" x2="283.2" y2="257.0" stroke="#111" stroke-width="1.0"/>
<text transform="translate(277.9,258.95) scale(1,1.05)" font-size="5.8" text-anchor="end" fill="#222" stroke="#222" stroke-width="0.2">100</text>
<line x1="291.0" y1="300" x2="291.0" y2="302.6" stroke="#222" stroke-width="0.9"/>
<text x="290.4" y="312.8" font-size="5.8" text-anchor="middle" fill="#222" stroke="#222" stroke-width="0.2">10<tspan font-size="4.0" dy="-2.4">2</tspan></text>
<line x1="295.57565593409254" y1="300" x2="295.57565593409254" y2="301.3" stroke="#444" stroke-width="0.6"/>
<line x1="298.25224307173886" y1="300" x2="298.25224307173886" y2="301.3" stroke="#444" stroke-width="0.6"/>
<line x1="300.151311868185" y1="300" x2="300.151311868185" y2="301.3" stroke="#444" stroke-width="0.6"/>
<line x1="301.6243440659075" y1="300" x2="301.6243440659075" y2="301.3" stroke="#444" stroke-width="0.6"/>
<line x1="302.8278990058314" y1="300" x2="302.8278990058314" y2="301.3" stroke="#444" stroke-width="0.6"/>
<line x1="303.8454902082167" y1="300" x2="303.8454902082167" y2="301.3" stroke="#444" stroke-width="0.6"/>
<line x1="304.72696780227756" y1="300" x2="304.72696780227756" y2="301.3" stroke="#444" stroke-width="0.6"/>
<line x1="305.5044861434777" y1="300" x2="305.5044861434777" y2="301.3" stroke="#444" stroke-width="0.6"/>
<line x1="306.2" y1="300" x2="306.2" y2="302.6" stroke="#222" stroke-width="0.9"/>
<text x="305.59999999999997" y="312.8" font-size="5.8" text-anchor="middle" fill="#222" stroke="#222" stroke-width="0.2">10<tspan font-size="4.0" dy="-2.4">3</tspan></text>
<line x1="310.7756559340925" y1="300" x2="310.7756559340925" y2="301.3" stroke="#444" stroke-width="0.6"/>
<line x1="313.45224307173885" y1="300" x2="313.45224307173885" y2="301.3" stroke="#444" stroke-width="0.6"/>
<line x1="315.351311868185" y1="300" x2="315.351311868185" y2="301.3" stroke="#444" stroke-width="0.6"/>
<line x1="316.8243440659075" y1="300" x2="316.8243440659075" y2="301.3" stroke="#444" stroke-width="0.6"/>
<line x1="318.0278990058314" y1="300" x2="318.0278990058314" y2="301.3" stroke="#444" stroke-width="0.6"/>
<line x1="319.0454902082167" y1="300" x2="319.0454902082167" y2="301.3" stroke="#444" stroke-width="0.6"/>
<line x1="319.92696780227755" y1="300" x2="319.92696780227755" y2="301.3" stroke="#444" stroke-width="0.6"/>
<line x1="320.7044861434777" y1="300" x2="320.7044861434777" y2="301.3" stroke="#444" stroke-width="0.6"/>
<line x1="321.4" y1="300" x2="321.4" y2="302.6" stroke="#222" stroke-width="0.9"/>
<text x="320.79999999999995" y="312.8" font-size="5.8" text-anchor="middle" fill="#222" stroke="#222" stroke-width="0.2">10<tspan font-size="4.0" dy="-2.4">4</tspan></text>
<line x1="325.9756559340925" y1="300" x2="325.9756559340925" y2="301.3" stroke="#444" stroke-width="0.6"/>
<line x1="328.65224307173884" y1="300" x2="328.65224307173884" y2="301.3" stroke="#444" stroke-width="0.6"/>
<line x1="330.551311868185" y1="300" x2="330.551311868185" y2="301.3" stroke="#444" stroke-width="0.6"/>
<line x1="332.0243440659075" y1="300" x2="332.0243440659075" y2="301.3" stroke="#444" stroke-width="0.6"/>
<line x1="333.2278990058314" y1="300" x2="333.2278990058314" y2="301.3" stroke="#444" stroke-width="0.6"/>
<line x1="334.24549020821667" y1="300" x2="334.24549020821667" y2="301.3" stroke="#444" stroke-width="0.6"/>
<line x1="335.12696780227753" y1="300" x2="335.12696780227753" y2="301.3" stroke="#444" stroke-width="0.6"/>
<line x1="335.9044861434777" y1="300" x2="335.9044861434777" y2="301.3" stroke="#444" stroke-width="0.6"/>
<line x1="336.6" y1="300" x2="336.6" y2="302.6" stroke="#222" stroke-width="0.9"/>
<text x="336.0" y="312.8" font-size="5.8" text-anchor="middle" fill="#222" stroke="#222" stroke-width="0.2">10<tspan font-size="4.0" dy="-2.4">5</tspan></text>
<line x1="315.0" y1="268.0" x2="315.0" y2="277.5" stroke="#000" stroke-width="1.3"/>
<line x1="315.0" y1="274.5" x2="342.3" y2="274.5" stroke="#000" stroke-width="1.3"/>
<text transform="translate(318.7,271.2) scale(1,1.0)" font-size="7.4" text-anchor="start" fill="#222" textLength="21.1" lengthAdjust="spacingAndGlyphs" stroke="#222" stroke-width="0.2">35.3%</text>
<path d="M374.3,300 L374.5,297.21 L375.53,295.8 L376.57,295.56 L377.6,294.73 L378.63,294.34 L379.67,292.46 L380.7,292.12 L381.65,290.93 L382.6,289.38 L383.55,284.96 L384.5,281.9 L385.7,276.87 L386.65,271.59 L387.6,265.65 L389.4,256.89 L390.7,250.29 L391.6,247.2 L392.5,249.28 L393.8,258.28 L395.0,269.28 L396.3,279.37 L397.5,286.54 L398.45,290.22 L399.4,293.94 L400.65,296.21 L401.9,297.94 L403.15,298.23 L404.4,298.97 L405.33,298.88 L406.27,298.81 L407.2,298.76 L408.13,298.86 L409.07,299.16 L410.0,299.39 L410.92,299.45 L411.83,299.2 L412.75,299.31 L413.67,299.2 L414.58,299.03 L415.5,299.12 L416.42,299.02 L417.33,299.25 L418.25,299.33 L419.17,298.99 L420.08,299.1 L421.0,299.39 L421.92,299.26 L422.83,299.03 L423.75,299.27 L424.67,299.43 L425.58,299.45 L426.5,299.42 L427.42,299.34 L428.33,299.25 L429.25,299.12 L430.17,299.05 L431.08,299.39 L432,299.3 L432,300 Z" fill="#e3bdb5" stroke="none"/>
<path d="M374.5,297.21 L375.53,295.8 L376.57,295.56 L377.6,294.73 L378.63,294.34 L379.67,292.46 L380.7,292.12 L381.65,290.93 L382.6,289.38 L383.55,284.96 L384.5,281.9 L385.7,276.87 L386.65,271.59 L387.6,265.65 L389.4,256.89 L390.7,250.29 L391.6,247.2 L392.5,249.28 L393.8,258.28 L395.0,269.28 L396.3,279.37 L397.5,286.54 L398.45,290.22 L399.4,293.94 L400.65,296.21 L401.9,297.94 L403.15,298.23 L404.4,298.97 L405.33,298.88 L406.27,298.81 L407.2,298.76 L408.13,298.86 L409.07,299.16 L410.0,299.39 L410.92,299.45 L411.83,299.2 L412.75,299.31 L413.67,299.2 L414.58,299.03 L415.5,299.12 L416.42,299.02 L417.33,299.25 L418.25,299.33 L419.17,298.99 L420.08,299.1 L421.0,299.39 L421.92,299.26 L422.83,299.03 L423.75,299.27 L424.67,299.43 L425.58,299.45 L426.5,299.42 L427.42,299.34 L428.33,299.25 L429.25,299.12 L430.17,299.05 L431.08,299.39 L432,299.3 L432.2,299.2" fill="none" stroke="#862033" stroke-width="1.05" stroke-linejoin="round"/>
<rect x="373.5" y="246.6" width="59.69999999999999" height="53.400000000000006" fill="none" stroke="#000" stroke-width="1.5"/>
<line x1="370.7" y1="300.0" x2="373.5" y2="300.0" stroke="#111" stroke-width="1.0"/>
<text transform="translate(368.2,301.95) scale(1,1.05)" font-size="5.8" text-anchor="end" fill="#222" stroke="#222" stroke-width="0.2">0</text>
<line x1="370.7" y1="290.1" x2="373.5" y2="290.1" stroke="#111" stroke-width="1.0"/>
<text transform="translate(368.2,292.05) scale(1,1.05)" font-size="5.8" text-anchor="end" fill="#222" stroke="#222" stroke-width="0.2">50</text>
<line x1="370.7" y1="280.2" x2="373.5" y2="280.2" stroke="#111" stroke-width="1.0"/>
<text transform="translate(368.2,282.15) scale(1,1.05)" font-size="5.8" text-anchor="end" fill="#222" stroke="#222" stroke-width="0.2">100</text>
<line x1="370.7" y1="270.3" x2="373.5" y2="270.3" stroke="#111" stroke-width="1.0"/>
<text transform="translate(368.2,272.25) scale(1,1.05)" font-size="5.8" text-anchor="end" fill="#222" stroke="#222" stroke-width="0.2">150</text>
<line x1="370.7" y1="260.4" x2="373.5" y2="260.4" stroke="#111" stroke-width="1.0"/>
<text transform="translate(368.2,262.34999999999997) scale(1,1.05)" font-size="5.8" text-anchor="end" fill="#222" stroke="#222" stroke-width="0.2">200</text>
<line x1="370.7" y1="250.5" x2="373.5" y2="250.5" stroke="#111" stroke-width="1.0"/>
<text transform="translate(368.2,252.45) scale(1,1.05)" font-size="5.8" text-anchor="end" fill="#222" stroke="#222" stroke-width="0.2">250</text>
<line x1="381.3" y1="300" x2="381.3" y2="302.6" stroke="#222" stroke-width="0.9"/>
<text x="380.7" y="312.8" font-size="5.8" text-anchor="middle" fill="#222" stroke="#222" stroke-width="0.2">10<tspan font-size="4.0" dy="-2.4">2</tspan></text>
<line x1="385.87565593409255" y1="300" x2="385.87565593409255" y2="301.3" stroke="#444" stroke-width="0.6"/>
<line x1="388.55224307173887" y1="300" x2="388.55224307173887" y2="301.3" stroke="#444" stroke-width="0.6"/>
<line x1="390.45131186818503" y1="300" x2="390.45131186818503" y2="301.3" stroke="#444" stroke-width="0.6"/>
<line x1="391.9243440659075" y1="300" x2="391.9243440659075" y2="301.3" stroke="#444" stroke-width="0.6"/>
<line x1="393.1278990058314" y1="300" x2="393.1278990058314" y2="301.3" stroke="#444" stroke-width="0.6"/>
<line x1="394.1454902082167" y1="300" x2="394.1454902082167" y2="301.3" stroke="#444" stroke-width="0.6"/>
<line x1="395.02696780227757" y1="300" x2="395.02696780227757" y2="301.3" stroke="#444" stroke-width="0.6"/>
<line x1="395.80448614347773" y1="300" x2="395.80448614347773" y2="301.3" stroke="#444" stroke-width="0.6"/>
<line x1="396.5" y1="300" x2="396.5" y2="302.6" stroke="#222" stroke-width="0.9"/>
<text x="395.9" y="312.8" font-size="5.8" text-anchor="middle" fill="#222" stroke="#222" stroke-width="0.2">10<tspan font-size="4.0" dy="-2.4">3</tspan></text>
<line x1="401.07565593409254" y1="300" x2="401.07565593409254" y2="301.3" stroke="#444" stroke-width="0.6"/>
<line x1="403.75224307173886" y1="300" x2="403.75224307173886" y2="301.3" stroke="#444" stroke-width="0.6"/>
<line x1="405.651311868185" y1="300" x2="405.651311868185" y2="301.3" stroke="#444" stroke-width="0.6"/>
<line x1="407.1243440659075" y1="300" x2="407.1243440659075" y2="301.3" stroke="#444" stroke-width="0.6"/>
<line x1="408.3278990058314" y1="300" x2="408.3278990058314" y2="301.3" stroke="#444" stroke-width="0.6"/>
<line x1="409.3454902082167" y1="300" x2="409.3454902082167" y2="301.3" stroke="#444" stroke-width="0.6"/>
<line x1="410.22696780227756" y1="300" x2="410.22696780227756" y2="301.3" stroke="#444" stroke-width="0.6"/>
<line x1="411.0044861434777" y1="300" x2="411.0044861434777" y2="301.3" stroke="#444" stroke-width="0.6"/>
<line x1="411.7" y1="300" x2="411.7" y2="302.6" stroke="#222" stroke-width="0.9"/>
<text x="411.09999999999997" y="312.8" font-size="5.8" text-anchor="middle" fill="#222" stroke="#222" stroke-width="0.2">10<tspan font-size="4.0" dy="-2.4">4</tspan></text>
<line x1="416.2756559340925" y1="300" x2="416.2756559340925" y2="301.3" stroke="#444" stroke-width="0.6"/>
<line x1="418.95224307173885" y1="300" x2="418.95224307173885" y2="301.3" stroke="#444" stroke-width="0.6"/>
<line x1="420.851311868185" y1="300" x2="420.851311868185" y2="301.3" stroke="#444" stroke-width="0.6"/>
<line x1="422.3243440659075" y1="300" x2="422.3243440659075" y2="301.3" stroke="#444" stroke-width="0.6"/>
<line x1="423.5278990058314" y1="300" x2="423.5278990058314" y2="301.3" stroke="#444" stroke-width="0.6"/>
<line x1="424.5454902082167" y1="300" x2="424.5454902082167" y2="301.3" stroke="#444" stroke-width="0.6"/>
<line x1="425.42696780227755" y1="300" x2="425.42696780227755" y2="301.3" stroke="#444" stroke-width="0.6"/>
<line x1="426.2044861434777" y1="300" x2="426.2044861434777" y2="301.3" stroke="#444" stroke-width="0.6"/>
<line x1="426.9" y1="300" x2="426.9" y2="302.6" stroke="#222" stroke-width="0.9"/>
<text x="426.29999999999995" y="312.8" font-size="5.8" text-anchor="middle" fill="#222" stroke="#222" stroke-width="0.2">10<tspan font-size="4.0" dy="-2.4">5</tspan></text>
<line x1="405.8" y1="268.2" x2="405.8" y2="280.5" stroke="#000" stroke-width="1.3"/>
<line x1="405.8" y1="274.5" x2="433.2" y2="274.5" stroke="#000" stroke-width="1.3"/>
<text transform="translate(409.4,271.3) scale(1,1.0)" font-size="7.4" text-anchor="start" fill="#222" textLength="17.7" lengthAdjust="spacingAndGlyphs" stroke="#222" stroke-width="0.2">0.7%</text>
<path d="M452.3,300 L452.3,298.28 L453.5,297.72 L454.53,297.16 L455.57,296.35 L456.6,296.72 L457.63,294.37 L458.67,294.19 L459.7,292.67 L460.95,289.63 L462.2,286.87 L463.45,283.19 L464.7,279.2 L465.65,274.93 L466.6,268.37 L467.8,262.84 L469.1,254.31 L470.3,248.96 L471.5,247.2 L472.8,249.3 L474.0,258.3 L475.3,264.56 L476.5,267.87 L477.8,272.22 L478.7,275.14 L479.6,277.52 L480.55,279.23 L481.5,281.74 L482.45,282.63 L483.4,283.12 L484.6,283.68 L485.55,283.12 L486.5,281.85 L487.45,280.09 L488.4,277.72 L489.3,276.7 L490.2,275.17 L491.45,270.55 L492.7,266.34 L493.95,262.37 L495.2,260.09 L496.15,259.0 L497.1,258.39 L498.9,256.05 L500.2,256.49 L501.4,260.84 L502.7,269.31 L503.9,280.62 L505.2,289.38 L506.4,297.06 L507.7,298.8 L508.6,298.83 L509.5,299 L509.5,300 Z" fill="#e3bdb5" stroke="none"/>
<path d="M452.3,298.28 L453.5,297.72 L454.53,297.16 L455.57,296.35 L456.6,296.72 L457.63,294.37 L458.67,294.19 L459.7,292.67 L460.95,289.63 L462.2,286.87 L463.45,283.19 L464.7,279.2 L465.65,274.93 L466.6,268.37 L467.8,262.84 L469.1,254.31 L470.3,248.96 L471.5,247.2 L472.8,249.3 L474.0,258.3 L475.3,264.56 L476.5,267.87 L477.8,272.22 L478.7,275.14 L479.6,277.52 L480.55,279.23 L481.5,281.74 L482.45,282.63 L483.4,283.12 L484.6,283.68 L485.55,283.12 L486.5,281.85 L487.45,280.09 L488.4,277.72 L489.3,276.7 L490.2,275.17 L491.45,270.55 L492.7,266.34 L493.95,262.37 L495.2,260.09 L496.15,259.0 L497.1,258.39 L498.9,256.05 L500.2,256.49 L501.4,260.84 L502.7,269.31 L503.9,280.62 L505.2,289.38 L506.4,297.06 L507.7,298.8 L508.6,298.83 L509.5,299 L509.4,299.2" fill="none" stroke="#862033" stroke-width="1.05" stroke-linejoin="round"/>
<rect x="451.5" y="246.6" width="58.89999999999998" height="53.400000000000006" fill="none" stroke="#000" stroke-width="1.5"/>
<line x1="448.7" y1="300.0" x2="451.5" y2="300.0" stroke="#111" stroke-width="1.0"/>
<text transform="translate(446.2,301.95) scale(1,1.05)" font-size="5.8" text-anchor="end" fill="#222" stroke="#222" stroke-width="0.2">0</text>
<line x1="448.7" y1="288.9" x2="451.5" y2="288.9" stroke="#111" stroke-width="1.0"/>
<text transform="translate(446.2,290.84999999999997) scale(1,1.05)" font-size="5.8" text-anchor="end" fill="#222" stroke="#222" stroke-width="0.2">25</text>
<line x1="448.7" y1="277.8" x2="451.5" y2="277.8" stroke="#111" stroke-width="1.0"/>
<text transform="translate(446.2,279.75) scale(1,1.05)" font-size="5.8" text-anchor="end" fill="#222" stroke="#222" stroke-width="0.2">50</text>
<line x1="448.7" y1="266.7" x2="451.5" y2="266.7" stroke="#111" stroke-width="1.0"/>
<text transform="translate(446.2,268.65) scale(1,1.05)" font-size="5.8" text-anchor="end" fill="#222" stroke="#222" stroke-width="0.2">75</text>
<line x1="448.7" y1="255.6" x2="451.5" y2="255.6" stroke="#111" stroke-width="1.0"/>
<text transform="translate(446.2,257.55) scale(1,1.05)" font-size="5.8" text-anchor="end" fill="#222" stroke="#222" stroke-width="0.2">100</text>
<line x1="459.3" y1="300" x2="459.3" y2="302.6" stroke="#222" stroke-width="0.9"/>
<text x="458.7" y="312.8" font-size="5.8" text-anchor="middle" fill="#222" stroke="#222" stroke-width="0.2">10<tspan font-size="4.0" dy="-2.4">2</tspan></text>
<line x1="463.87565593409255" y1="300" x2="463.87565593409255" y2="301.3" stroke="#444" stroke-width="0.6"/>
<line x1="466.55224307173887" y1="300" x2="466.55224307173887" y2="301.3" stroke="#444" stroke-width="0.6"/>
<line x1="468.45131186818503" y1="300" x2="468.45131186818503" y2="301.3" stroke="#444" stroke-width="0.6"/>
<line x1="469.9243440659075" y1="300" x2="469.9243440659075" y2="301.3" stroke="#444" stroke-width="0.6"/>
<line x1="471.1278990058314" y1="300" x2="471.1278990058314" y2="301.3" stroke="#444" stroke-width="0.6"/>
<line x1="472.1454902082167" y1="300" x2="472.1454902082167" y2="301.3" stroke="#444" stroke-width="0.6"/>
<line x1="473.02696780227757" y1="300" x2="473.02696780227757" y2="301.3" stroke="#444" stroke-width="0.6"/>
<line x1="473.80448614347773" y1="300" x2="473.80448614347773" y2="301.3" stroke="#444" stroke-width="0.6"/>
<line x1="474.5" y1="300" x2="474.5" y2="302.6" stroke="#222" stroke-width="0.9"/>
<text x="473.9" y="312.8" font-size="5.8" text-anchor="middle" fill="#222" stroke="#222" stroke-width="0.2">10<tspan font-size="4.0" dy="-2.4">3</tspan></text>
<line x1="479.07565593409254" y1="300" x2="479.07565593409254" y2="301.3" stroke="#444" stroke-width="0.6"/>
<line x1="481.75224307173886" y1="300" x2="481.75224307173886" y2="301.3" stroke="#444" stroke-width="0.6"/>
<line x1="483.651311868185" y1="300" x2="483.651311868185" y2="301.3" stroke="#444" stroke-width="0.6"/>
<line x1="485.1243440659075" y1="300" x2="485.1243440659075" y2="301.3" stroke="#444" stroke-width="0.6"/>
<line x1="486.3278990058314" y1="300" x2="486.3278990058314" y2="301.3" stroke="#444" stroke-width="0.6"/>
<line x1="487.3454902082167" y1="300" x2="487.3454902082167" y2="301.3" stroke="#444" stroke-width="0.6"/>
<line x1="488.22696780227756" y1="300" x2="488.22696780227756" y2="301.3" stroke="#444" stroke-width="0.6"/>
<line x1="489.0044861434777" y1="300" x2="489.0044861434777" y2="301.3" stroke="#444" stroke-width="0.6"/>
<line x1="489.7" y1="300" x2="489.7" y2="302.6" stroke="#222" stroke-width="0.9"/>
<text x="489.09999999999997" y="312.8" font-size="5.8" text-anchor="middle" fill="#222" stroke="#222" stroke-width="0.2">10<tspan font-size="4.0" dy="-2.4">4</tspan></text>
<line x1="494.2756559340925" y1="300" x2="494.2756559340925" y2="301.3" stroke="#444" stroke-width="0.6"/>
<line x1="496.95224307173885" y1="300" x2="496.95224307173885" y2="301.3" stroke="#444" stroke-width="0.6"/>
<line x1="498.851311868185" y1="300" x2="498.851311868185" y2="301.3" stroke="#444" stroke-width="0.6"/>
<line x1="500.3243440659075" y1="300" x2="500.3243440659075" y2="301.3" stroke="#444" stroke-width="0.6"/>
<line x1="501.5278990058314" y1="300" x2="501.5278990058314" y2="301.3" stroke="#444" stroke-width="0.6"/>
<line x1="502.5454902082167" y1="300" x2="502.5454902082167" y2="301.3" stroke="#444" stroke-width="0.6"/>
<line x1="503.42696780227755" y1="300" x2="503.42696780227755" y2="301.3" stroke="#444" stroke-width="0.6"/>
<line x1="504.2044861434777" y1="300" x2="504.2044861434777" y2="301.3" stroke="#444" stroke-width="0.6"/>
<line x1="504.9" y1="300" x2="504.9" y2="302.6" stroke="#222" stroke-width="0.9"/>
<text x="504.29999999999995" y="312.8" font-size="5.8" text-anchor="middle" fill="#222" stroke="#222" stroke-width="0.2">10<tspan font-size="4.0" dy="-2.4">5</tspan></text>
<line x1="483.4" y1="268.6" x2="483.4" y2="282.4" stroke="#000" stroke-width="1.3"/>
<line x1="483.4" y1="274.5" x2="510.4" y2="274.5" stroke="#000" stroke-width="1.3"/>
<text transform="translate(484.9,271.0) scale(1,1.0)" font-size="7.4" text-anchor="start" fill="#222" textLength="21.8" lengthAdjust="spacingAndGlyphs" stroke="#222" stroke-width="0.2">39.4%</text>
<path d="M32.6,390 L32.5,384.53 L33.6,386.13 L34.7,385.94 L35.65,385.69 L36.6,383.95 L37.55,382.0 L38.5,381.16 L40.3,376.03 L41.25,372.72 L42.2,369.48 L43.5,360.46 L44.7,350.31 L45.9,342.24 L47.2,337.39 L48.4,338.55 L49.7,345.3 L50.9,355.4 L52.2,365.33 L53.4,376.45 L54.7,383.62 L56.5,387.49 L57.53,388.02 L58.57,388.23 L59.6,388.86 L60.55,388.65 L61.49,388.69 L62.44,389.08 L63.38,388.79 L64.33,388.92 L65.27,388.86 L66.22,388.83 L67.16,389.26 L68.11,389.19 L69.05,389.08 L70.0,389.39 L70.93,389.4 L71.86,389.41 L72.8,389.38 L73.73,389.37 L74.66,389.45 L75.59,388.99 L76.52,389.35 L77.45,389.11 L78.39,389.16 L79.32,389.12 L80.25,389.2 L81.18,389.09 L82.11,389.32 L83.05,389.3 L83.98,389.02 L84.91,389.18 L85.84,389.32 L86.77,389.44 L87.7,389.22 L88.64,389.38 L89.57,389.27 L90.5,389.3 L90.5,390 Z" fill="#e3bdb5" stroke="none"/>
<path d="M32.5,384.53 L33.6,386.13 L34.7,385.94 L35.65,385.69 L36.6,383.95 L37.55,382.0 L38.5,381.16 L40.3,376.03 L41.25,372.72 L42.2,369.48 L43.5,360.46 L44.7,350.31 L45.9,342.24 L47.2,337.39 L48.4,338.55 L49.7,345.3 L50.9,355.4 L52.2,365.33 L53.4,376.45 L54.7,383.62 L56.5,387.49 L57.53,388.02 L58.57,388.23 L59.6,388.86 L60.55,388.65 L61.49,388.69 L62.44,389.08 L63.38,388.79 L64.33,388.92 L65.27,388.86 L66.22,388.83 L67.16,389.26 L68.11,389.19 L69.05,389.08 L70.0,389.39 L70.93,389.4 L71.86,389.41 L72.8,389.38 L73.73,389.37 L74.66,389.45 L75.59,388.99 L76.52,389.35 L77.45,389.11 L78.39,389.16 L79.32,389.12 L80.25,389.2 L81.18,389.09 L82.11,389.32 L83.05,389.3 L83.98,389.02 L84.91,389.18 L85.84,389.32 L86.77,389.44 L87.7,389.22 L88.64,389.38 L89.57,389.27 L90.5,389.3 L90.3,389.2" fill="none" stroke="#862033" stroke-width="1.05" stroke-linejoin="round"/>
<rect x="31.8" y="336.6" width="59.5" height="53.39999999999998" fill="none" stroke="#000" stroke-width="1.5"/>
<line x1="29.0" y1="390.0" x2="31.8" y2="390.0" stroke="#111" stroke-width="1.0"/>
<text transform="translate(26.5,391.95) scale(1,1.05)" font-size="5.8" text-anchor="end" fill="#222" stroke="#222" stroke-width="0.2">0</text>
<line x1="29.0" y1="378.1" x2="31.8" y2="378.1" stroke="#111" stroke-width="1.0"/>
<text transform="translate(26.5,380.05) scale(1,1.05)" font-size="5.8" text-anchor="end" fill="#222" stroke="#222" stroke-width="0.2">50</text>
<line x1="29.0" y1="366.2" x2="31.8" y2="366.2" stroke="#111" stroke-width="1.0"/>
<text transform="translate(26.5,368.15) scale(1,1.05)" font-size="5.8" text-anchor="end" fill="#222" stroke="#222" stroke-width="0.2">100</text>
<line x1="29.0" y1="354.3" x2="31.8" y2="354.3" stroke="#111" stroke-width="1.0"/>
<text transform="translate(26.5,356.25) scale(1,1.05)" font-size="5.8" text-anchor="end" fill="#222" stroke="#222" stroke-width="0.2">150</text>
<line x1="29.0" y1="342.4" x2="31.8" y2="342.4" stroke="#111" stroke-width="1.0"/>
<text transform="translate(26.5,344.34999999999997) scale(1,1.05)" font-size="5.8" text-anchor="end" fill="#222" stroke="#222" stroke-width="0.2">200</text>
<line x1="39.6" y1="390" x2="39.6" y2="392.6" stroke="#222" stroke-width="0.9"/>
<text x="39.0" y="402.8" font-size="5.8" text-anchor="middle" fill="#222" stroke="#222" stroke-width="0.2">10<tspan font-size="4.0" dy="-2.4">2</tspan></text>
<line x1="44.17565593409252" y1="390" x2="44.17565593409252" y2="391.3" stroke="#444" stroke-width="0.6"/>
<line x1="46.85224307173887" y1="390" x2="46.85224307173887" y2="391.3" stroke="#444" stroke-width="0.6"/>
<line x1="48.75131186818503" y1="390" x2="48.75131186818503" y2="391.3" stroke="#444" stroke-width="0.6"/>
<line x1="50.22434406590749" y1="390" x2="50.22434406590749" y2="391.3" stroke="#444" stroke-width="0.6"/>
<line x1="51.427899005831385" y1="390" x2="51.427899005831385" y2="391.3" stroke="#444" stroke-width="0.6"/>
<line x1="52.445490208216704" y1="390" x2="52.445490208216704" y2="391.3" stroke="#444" stroke-width="0.6"/>
<line x1="53.326967802277544" y1="390" x2="53.326967802277544" y2="391.3" stroke="#444" stroke-width="0.6"/>
<line x1="54.10448614347774" y1="390" x2="54.10448614347774" y2="391.3" stroke="#444" stroke-width="0.6"/>
<line x1="54.8" y1="390" x2="54.8" y2="392.6" stroke="#222" stroke-width="0.9"/>
<text x="54.199999999999996" y="402.8" font-size="5.8" text-anchor="middle" fill="#222" stroke="#222" stroke-width="0.2">10<tspan font-size="4.0" dy="-2.4">3</tspan></text>
<line x1="59.375655934092514" y1="390" x2="59.375655934092514" y2="391.3" stroke="#444" stroke-width="0.6"/>
<line x1="62.052243071738864" y1="390" x2="62.052243071738864" y2="391.3" stroke="#444" stroke-width="0.6"/>
<line x1="63.95131186818502" y1="390" x2="63.95131186818502" y2="391.3" stroke="#444" stroke-width="0.6"/>
<line x1="65.42434406590749" y1="390" x2="65.42434406590749" y2="391.3" stroke="#444" stroke-width="0.6"/>
<line x1="66.62789900583138" y1="390" x2="66.62789900583138" y2="391.3" stroke="#444" stroke-width="0.6"/>
<line x1="67.6454902082167" y1="390" x2="67.6454902082167" y2="391.3" stroke="#444" stroke-width="0.6"/>
<line x1="68.52696780227754" y1="390" x2="68.52696780227754" y2="391.3" stroke="#444" stroke-width="0.6"/>
<line x1="69.30448614347773" y1="390" x2="69.30448614347773" y2="391.3" stroke="#444" stroke-width="0.6"/>
<line x1="70.0" y1="390" x2="70.0" y2="392.6" stroke="#222" stroke-width="0.9"/>
<text x="69.4" y="402.8" font-size="5.8" text-anchor="middle" fill="#222" stroke="#222" stroke-width="0.2">10<tspan font-size="4.0" dy="-2.4">4</tspan></text>
<line x1="74.57565593409251" y1="390" x2="74.57565593409251" y2="391.3" stroke="#444" stroke-width="0.6"/>
<line x1="77.25224307173887" y1="390" x2="77.25224307173887" y2="391.3" stroke="#444" stroke-width="0.6"/>
<line x1="79.15131186818503" y1="390" x2="79.15131186818503" y2="391.3" stroke="#444" stroke-width="0.6"/>
<line x1="80.62434406590748" y1="390" x2="80.62434406590748" y2="391.3" stroke="#444" stroke-width="0.6"/>
<line x1="81.82789900583138" y1="390" x2="81.82789900583138" y2="391.3" stroke="#444" stroke-width="0.6"/>
<line x1="82.8454902082167" y1="390" x2="82.8454902082167" y2="391.3" stroke="#444" stroke-width="0.6"/>
<line x1="83.72696780227754" y1="390" x2="83.72696780227754" y2="391.3" stroke="#444" stroke-width="0.6"/>
<line x1="84.50448614347773" y1="390" x2="84.50448614347773" y2="391.3" stroke="#444" stroke-width="0.6"/>
<line x1="85.19999999999999" y1="390" x2="85.19999999999999" y2="392.6" stroke="#222" stroke-width="0.9"/>
<text x="84.6" y="402.8" font-size="5.8" text-anchor="middle" fill="#222" stroke="#222" stroke-width="0.2">10<tspan font-size="4.0" dy="-2.4">5</tspan></text>
<line x1="64.1" y1="360.1" x2="64.1" y2="372.5" stroke="#000" stroke-width="1.3"/>
<line x1="64.1" y1="366.4" x2="91.3" y2="366.4" stroke="#000" stroke-width="1.3"/>
<text transform="translate(66.60000000000001,360.6) scale(1,1.0)" font-size="7.4" text-anchor="start" fill="#222" textLength="17.5" lengthAdjust="spacingAndGlyphs" stroke="#222" stroke-width="0.2">1.6%</text>
<path d="M112.8,390 L112.9,387.95 L113.93,386.19 L114.97,384.98 L116.0,384.22 L117.25,382.58 L118.5,381.31 L120.3,376.08 L121.25,372.9 L122.2,369.34 L123.5,367.97 L124.7,360.13 L125.9,354.17 L127.2,343.33 L128.4,338.36 L129.7,337.2 L130.9,343.07 L132.2,350.79 L133.4,358.21 L134.7,366.62 L135.6,368.27 L136.5,368.76 L137.45,367.66 L138.4,367.39 L139.35,369.44 L140.3,369.69 L142.1,367.79 L143.05,369.87 L144.0,370.6 L144.95,369.55 L145.9,367.53 L147.15,367.55 L148.4,367.64 L150.2,366.43 L151.15,367.0 L152.1,368.74 L153.35,368.87 L154.6,370.45 L155.55,371.34 L156.5,372.66 L157.4,372.88 L158.3,374.04 L159.25,377.53 L160.2,380.0 L161.15,382.11 L162.1,384.31 L163.0,386.84 L163.9,387.95 L164.85,388.34 L165.8,388.64 L166.85,388.71 L167.9,388.81 L168.95,388.96 L170,389.2 L170,390 Z" fill="#e3bdb5" stroke="none"/>
<path d="M112.9,387.95 L113.93,386.19 L114.97,384.98 L116.0,384.22 L117.25,382.58 L118.5,381.31 L120.3,376.08 L121.25,372.9 L122.2,369.34 L123.5,367.97 L124.7,360.13 L125.9,354.17 L127.2,343.33 L128.4,338.36 L129.7,337.2 L130.9,343.07 L132.2,350.79 L133.4,358.21 L134.7,366.62 L135.6,368.27 L136.5,368.76 L137.45,367.66 L138.4,367.39 L139.35,369.44 L140.3,369.69 L142.1,367.79 L143.05,369.87 L144.0,370.6 L144.95,369.55 L145.9,367.53 L147.15,367.55 L148.4,367.64 L150.2,366.43 L151.15,367.0 L152.1,368.74 L153.35,368.87 L154.6,370.45 L155.55,371.34 L156.5,372.66 L157.4,372.88 L158.3,374.04 L159.25,377.53 L160.2,380.0 L161.15,382.11 L162.1,384.31 L163.0,386.84 L163.9,387.95 L164.85,388.34 L165.8,388.64 L166.85,388.71 L167.9,388.81 L168.95,388.96 L170,389.2 L170.3,389.2" fill="none" stroke="#862033" stroke-width="1.05" stroke-linejoin="round"/>
<rect x="112" y="336.6" width="59.30000000000001" height="53.39999999999998" fill="none" stroke="#000" stroke-width="1.5"/>
<line x1="109.2" y1="390.0" x2="112" y2="390.0" stroke="#111" stroke-width="1.0"/>
<text transform="translate(106.7,391.95) scale(1,1.05)" font-size="5.8" text-anchor="end" fill="#222" stroke="#222" stroke-width="0.2">0</text>
<line x1="109.2" y1="384.1" x2="112" y2="384.1" stroke="#111" stroke-width="1.0"/>
<text transform="translate(106.7,386.05) scale(1,1.05)" font-size="5.8" text-anchor="end" fill="#222" stroke="#222" stroke-width="0.2">10</text>
<line x1="109.2" y1="378.2" x2="112" y2="378.2" stroke="#111" stroke-width="1.0"/>
<text transform="translate(106.7,380.15) scale(1,1.05)" font-size="5.8" text-anchor="end" fill="#222" stroke="#222" stroke-width="0.2">20</text>
<line x1="109.2" y1="372.3" x2="112" y2="372.3" stroke="#111" stroke-width="1.0"/>
<text transform="translate(106.7,374.25) scale(1,1.05)" font-size="5.8" text-anchor="end" fill="#222" stroke="#222" stroke-width="0.2">30</text>
<line x1="109.2" y1="366.4" x2="112" y2="366.4" stroke="#111" stroke-width="1.0"/>
<text transform="translate(106.7,368.34999999999997) scale(1,1.05)" font-size="5.8" text-anchor="end" fill="#222" stroke="#222" stroke-width="0.2">40</text>
<line x1="109.2" y1="360.5" x2="112" y2="360.5" stroke="#111" stroke-width="1.0"/>
<text transform="translate(106.7,362.45) scale(1,1.05)" font-size="5.8" text-anchor="end" fill="#222" stroke="#222" stroke-width="0.2">50</text>
<line x1="109.2" y1="354.6" x2="112" y2="354.6" stroke="#111" stroke-width="1.0"/>
<text transform="translate(106.7,356.55) scale(1,1.05)" font-size="5.8" text-anchor="end" fill="#222" stroke="#222" stroke-width="0.2">60</text>
<line x1="109.2" y1="348.7" x2="112" y2="348.7" stroke="#111" stroke-width="1.0"/>
<text transform="translate(106.7,350.65) scale(1,1.05)" font-size="5.8" text-anchor="end" fill="#222" stroke="#222" stroke-width="0.2">70</text>
<line x1="109.2" y1="342.8" x2="112" y2="342.8" stroke="#111" stroke-width="1.0"/>
<text transform="translate(106.7,344.75) scale(1,1.05)" font-size="5.8" text-anchor="end" fill="#222" stroke="#222" stroke-width="0.2">80</text>
<line x1="109.2" y1="336.9" x2="112" y2="336.9" stroke="#111" stroke-width="1.0"/>
<text transform="translate(106.7,338.84999999999997) scale(1,1.05)" font-size="5.8" text-anchor="end" fill="#222" stroke="#222" stroke-width="0.2">90</text>
<line x1="119.8" y1="390" x2="119.8" y2="392.6" stroke="#222" stroke-width="0.9"/>
<text x="119.2" y="402.8" font-size="5.8" text-anchor="middle" fill="#222" stroke="#222" stroke-width="0.2">10<tspan font-size="4.0" dy="-2.4">2</tspan></text>
<line x1="124.3756559340925" y1="390" x2="124.3756559340925" y2="391.3" stroke="#444" stroke-width="0.6"/>
<line x1="127.05224307173887" y1="390" x2="127.05224307173887" y2="391.3" stroke="#444" stroke-width="0.6"/>
<line x1="128.95131186818503" y1="390" x2="128.95131186818503" y2="391.3" stroke="#444" stroke-width="0.6"/>
<line x1="130.4243440659075" y1="390" x2="130.4243440659075" y2="391.3" stroke="#444" stroke-width="0.6"/>
<line x1="131.62789900583138" y1="390" x2="131.62789900583138" y2="391.3" stroke="#444" stroke-width="0.6"/>
<line x1="132.6454902082167" y1="390" x2="132.6454902082167" y2="391.3" stroke="#444" stroke-width="0.6"/>
<line x1="133.52696780227754" y1="390" x2="133.52696780227754" y2="391.3" stroke="#444" stroke-width="0.6"/>
<line x1="134.30448614347773" y1="390" x2="134.30448614347773" y2="391.3" stroke="#444" stroke-width="0.6"/>
<line x1="135.0" y1="390" x2="135.0" y2="392.6" stroke="#222" stroke-width="0.9"/>
<text x="134.4" y="402.8" font-size="5.8" text-anchor="middle" fill="#222" stroke="#222" stroke-width="0.2">10<tspan font-size="4.0" dy="-2.4">3</tspan></text>
<line x1="139.5756559340925" y1="390" x2="139.5756559340925" y2="391.3" stroke="#444" stroke-width="0.6"/>
<line x1="142.25224307173886" y1="390" x2="142.25224307173886" y2="391.3" stroke="#444" stroke-width="0.6"/>
<line x1="144.15131186818502" y1="390" x2="144.15131186818502" y2="391.3" stroke="#444" stroke-width="0.6"/>
<line x1="145.62434406590748" y1="390" x2="145.62434406590748" y2="391.3" stroke="#444" stroke-width="0.6"/>
<line x1="146.82789900583137" y1="390" x2="146.82789900583137" y2="391.3" stroke="#444" stroke-width="0.6"/>
<line x1="147.8454902082167" y1="390" x2="147.8454902082167" y2="391.3" stroke="#444" stroke-width="0.6"/>
<line x1="148.72696780227753" y1="390" x2="148.72696780227753" y2="391.3" stroke="#444" stroke-width="0.6"/>
<line x1="149.50448614347775" y1="390" x2="149.50448614347775" y2="391.3" stroke="#444" stroke-width="0.6"/>
<line x1="150.2" y1="390" x2="150.2" y2="392.6" stroke="#222" stroke-width="0.9"/>
<text x="149.6" y="402.8" font-size="5.8" text-anchor="middle" fill="#222" stroke="#222" stroke-width="0.2">10<tspan font-size="4.0" dy="-2.4">4</tspan></text>
<line x1="154.7756559340925" y1="390" x2="154.7756559340925" y2="391.3" stroke="#444" stroke-width="0.6"/>
<line x1="157.45224307173885" y1="390" x2="157.45224307173885" y2="391.3" stroke="#444" stroke-width="0.6"/>
<line x1="159.351311868185" y1="390" x2="159.351311868185" y2="391.3" stroke="#444" stroke-width="0.6"/>
<line x1="160.82434406590747" y1="390" x2="160.82434406590747" y2="391.3" stroke="#444" stroke-width="0.6"/>
<line x1="162.02789900583136" y1="390" x2="162.02789900583136" y2="391.3" stroke="#444" stroke-width="0.6"/>
<line x1="163.04549020821668" y1="390" x2="163.04549020821668" y2="391.3" stroke="#444" stroke-width="0.6"/>
<line x1="163.92696780227752" y1="390" x2="163.92696780227752" y2="391.3" stroke="#444" stroke-width="0.6"/>
<line x1="164.70448614347774" y1="390" x2="164.70448614347774" y2="391.3" stroke="#444" stroke-width="0.6"/>
<line x1="165.39999999999998" y1="390" x2="165.39999999999998" y2="392.6" stroke="#222" stroke-width="0.9"/>
<text x="164.79999999999998" y="402.8" font-size="5.8" text-anchor="middle" fill="#222" stroke="#222" stroke-width="0.2">10<tspan font-size="4.0" dy="-2.4">5</tspan></text>
<line x1="144.3" y1="360.2" x2="144.3" y2="371.5" stroke="#000" stroke-width="1.3"/>
<line x1="144.3" y1="366.4" x2="171.3" y2="366.4" stroke="#000" stroke-width="1.3"/>
<text transform="translate(146.5,362.7) scale(1,1.0)" font-size="7.4" text-anchor="start" fill="#222" textLength="21.4" lengthAdjust="spacingAndGlyphs" stroke="#222" stroke-width="0.2">40.5%</text>
<path d="M206.4,390 L206.5,386.48 L207.53,385.15 L208.57,384.82 L209.6,384.74 L210.85,382.84 L212.1,381.92 L213.05,379.39 L214.0,375.4 L214.9,372.4 L215.8,368.84 L217.1,364.42 L218.3,355.42 L219.6,346.45 L220.8,342.66 L222.1,337.2 L222.7,339.4 L223.9,353.05 L225.2,366.75 L226.4,377.58 L227.7,385.13 L228.6,385.49 L229.5,388.02 L230.75,388.46 L232.0,388.73 L233.0,389.09 L234.0,388.76 L235.0,388.92 L236.0,388.97 L237.0,388.93 L238.0,389.0 L239.0,389.39 L240.0,389.15 L240.92,389.34 L241.85,388.99 L242.77,388.98 L243.69,389.13 L244.62,389.45 L245.54,389.4 L246.46,389.1 L247.38,389.09 L248.31,389.23 L249.23,389.28 L250.15,389.27 L251.08,389.23 L252.0,389.09 L252.92,389.22 L253.85,389.5 L254.77,389.25 L255.69,389.25 L256.62,389.47 L257.54,389.03 L258.46,389.36 L259.38,389.48 L260.31,389.38 L261.23,389.47 L262.15,389.42 L263.08,389.28 L264,389.3 L264,390 Z" fill="#e3bdb5" stroke="none"/>
<path d="M206.5,386.48 L207.53,385.15 L208.57,384.82 L209.6,384.74 L210.85,382.84 L212.1,381.92 L213.05,379.39 L214.0,375.4 L214.9,372.4 L215.8,368.84 L217.1,364.42 L218.3,355.42 L219.6,346.45 L220.8,342.66 L222.1,337.2 L222.7,339.4 L223.9,353.05 L225.2,366.75 L226.4,377.58 L227.7,385.13 L228.6,385.49 L229.5,388.02 L230.75,388.46 L232.0,388.73 L233.0,389.09 L234.0,388.76 L235.0,388.92 L236.0,388.97 L237.0,388.93 L238.0,389.0 L239.0,389.39 L240.0,389.15 L240.92,389.34 L241.85,388.99 L242.77,388.98 L243.69,389.13 L244.62,389.45 L245.54,389.4 L246.46,389.1 L247.38,389.09 L248.31,389.23 L249.23,389.28 L250.15,389.27 L251.08,389.23 L252.0,389.09 L252.92,389.22 L253.85,389.5 L254.77,389.25 L255.69,389.25 L256.62,389.47 L257.54,389.03 L258.46,389.36 L259.38,389.48 L260.31,389.38 L261.23,389.47 L262.15,389.42 L263.08,389.28 L264,389.3 L263.8,389.2" fill="none" stroke="#862033" stroke-width="1.05" stroke-linejoin="round"/>
<rect x="205.6" y="336.6" width="59.20000000000002" height="53.39999999999998" fill="none" stroke="#000" stroke-width="1.5"/>
<line x1="202.79999999999998" y1="390.0" x2="205.6" y2="390.0" stroke="#111" stroke-width="1.0"/>
<text transform="translate(200.29999999999998,391.95) scale(1,1.05)" font-size="5.8" text-anchor="end" fill="#222" stroke="#222" stroke-width="0.2">0</text>
<line x1="202.79999999999998" y1="376.72" x2="205.6" y2="376.72" stroke="#111" stroke-width="1.0"/>
<text transform="translate(200.29999999999998,378.67) scale(1,1.05)" font-size="5.8" text-anchor="end" fill="#222" stroke="#222" stroke-width="0.2">50</text>
<line x1="202.79999999999998" y1="363.44" x2="205.6" y2="363.44" stroke="#111" stroke-width="1.0"/>
<text transform="translate(200.29999999999998,365.39) scale(1,1.05)" font-size="5.8" text-anchor="end" fill="#222" stroke="#222" stroke-width="0.2">100</text>
<line x1="202.79999999999998" y1="350.16" x2="205.6" y2="350.16" stroke="#111" stroke-width="1.0"/>
<text transform="translate(200.29999999999998,352.11) scale(1,1.05)" font-size="5.8" text-anchor="end" fill="#222" stroke="#222" stroke-width="0.2">150</text>
<line x1="202.79999999999998" y1="336.88" x2="205.6" y2="336.88" stroke="#111" stroke-width="1.0"/>
<text transform="translate(200.29999999999998,338.83) scale(1,1.05)" font-size="5.8" text-anchor="end" fill="#222" stroke="#222" stroke-width="0.2">200</text>
<line x1="213.4" y1="390" x2="213.4" y2="392.6" stroke="#222" stroke-width="0.9"/>
<text x="212.8" y="402.8" font-size="5.8" text-anchor="middle" fill="#222" stroke="#222" stroke-width="0.2">10<tspan font-size="4.0" dy="-2.4">2</tspan></text>
<line x1="217.97565593409252" y1="390" x2="217.97565593409252" y2="391.3" stroke="#444" stroke-width="0.6"/>
<line x1="220.65224307173887" y1="390" x2="220.65224307173887" y2="391.3" stroke="#444" stroke-width="0.6"/>
<line x1="222.55131186818502" y1="390" x2="222.55131186818502" y2="391.3" stroke="#444" stroke-width="0.6"/>
<line x1="224.02434406590748" y1="390" x2="224.02434406590748" y2="391.3" stroke="#444" stroke-width="0.6"/>
<line x1="225.22789900583138" y1="390" x2="225.22789900583138" y2="391.3" stroke="#444" stroke-width="0.6"/>
<line x1="226.24549020821672" y1="390" x2="226.24549020821672" y2="391.3" stroke="#444" stroke-width="0.6"/>
<line x1="227.12696780227753" y1="390" x2="227.12696780227753" y2="391.3" stroke="#444" stroke-width="0.6"/>
<line x1="227.90448614347775" y1="390" x2="227.90448614347775" y2="391.3" stroke="#444" stroke-width="0.6"/>
<line x1="228.6" y1="390" x2="228.6" y2="392.6" stroke="#222" stroke-width="0.9"/>
<text x="228.0" y="402.8" font-size="5.8" text-anchor="middle" fill="#222" stroke="#222" stroke-width="0.2">10<tspan font-size="4.0" dy="-2.4">3</tspan></text>
<line x1="233.1756559340925" y1="390" x2="233.1756559340925" y2="391.3" stroke="#444" stroke-width="0.6"/>
<line x1="235.85224307173885" y1="390" x2="235.85224307173885" y2="391.3" stroke="#444" stroke-width="0.6"/>
<line x1="237.751311868185" y1="390" x2="237.751311868185" y2="391.3" stroke="#444" stroke-width="0.6"/>
<line x1="239.22434406590747" y1="390" x2="239.22434406590747" y2="391.3" stroke="#444" stroke-width="0.6"/>
<line x1="240.42789900583136" y1="390" x2="240.42789900583136" y2="391.3" stroke="#444" stroke-width="0.6"/>
<line x1="241.4454902082167" y1="390" x2="241.4454902082167" y2="391.3" stroke="#444" stroke-width="0.6"/>
<line x1="242.32696780227752" y1="390" x2="242.32696780227752" y2="391.3" stroke="#444" stroke-width="0.6"/>
<line x1="243.10448614347774" y1="390" x2="243.10448614347774" y2="391.3" stroke="#444" stroke-width="0.6"/>
<line x1="243.8" y1="390" x2="243.8" y2="392.6" stroke="#222" stroke-width="0.9"/>
<text x="243.20000000000002" y="402.8" font-size="5.8" text-anchor="middle" fill="#222" stroke="#222" stroke-width="0.2">10<tspan font-size="4.0" dy="-2.4">4</tspan></text>
<line x1="248.37565593409252" y1="390" x2="248.37565593409252" y2="391.3" stroke="#444" stroke-width="0.6"/>
<line x1="251.05224307173887" y1="390" x2="251.05224307173887" y2="391.3" stroke="#444" stroke-width="0.6"/>
<line x1="252.95131186818503" y1="390" x2="252.95131186818503" y2="391.3" stroke="#444" stroke-width="0.6"/>
<line x1="254.4243440659075" y1="390" x2="254.4243440659075" y2="391.3" stroke="#444" stroke-width="0.6"/>
<line x1="255.62789900583138" y1="390" x2="255.62789900583138" y2="391.3" stroke="#444" stroke-width="0.6"/>
<line x1="256.6454902082167" y1="390" x2="256.6454902082167" y2="391.3" stroke="#444" stroke-width="0.6"/>
<line x1="257.52696780227757" y1="390" x2="257.52696780227757" y2="391.3" stroke="#444" stroke-width="0.6"/>
<line x1="258.30448614347773" y1="390" x2="258.30448614347773" y2="391.3" stroke="#444" stroke-width="0.6"/>
<line x1="259.0" y1="390" x2="259.0" y2="392.6" stroke="#222" stroke-width="0.9"/>
<text x="258.4" y="402.8" font-size="5.8" text-anchor="middle" fill="#222" stroke="#222" stroke-width="0.2">10<tspan font-size="4.0" dy="-2.4">5</tspan></text>
<line x1="238.0" y1="360.2" x2="238.0" y2="372.5" stroke="#000" stroke-width="1.3"/>
<line x1="238.0" y1="366.4" x2="264.8" y2="366.4" stroke="#000" stroke-width="1.3"/>
<text transform="translate(242.29999999999998,362.7) scale(1,1.0)" font-size="7.4" text-anchor="start" fill="#222" textLength="17.1" lengthAdjust="spacingAndGlyphs" stroke="#222" stroke-width="0.2">1.3%</text>
<path d="M284.0,390 L284.9,387.71 L285.93,386.14 L286.97,385.63 L288.0,385.49 L289.25,382.79 L290.5,380.23 L291.7,378.19 L293.0,376.59 L293.9,373.35 L294.8,370.29 L296.1,364.67 L297.3,355.52 L298.6,348.26 L299.8,341.07 L301.1,337.2 L302.3,341.6 L303.5,351.94 L304.8,361.39 L306.0,369.78 L306.95,371.46 L307.9,371.85 L308.85,371.45 L309.8,370.46 L310.7,372.35 L311.6,373.02 L312.55,372.2 L313.5,371.23 L314.45,371.59 L315.4,371.78 L316.3,370.11 L317.2,367.73 L318.15,367.72 L319.1,368.04 L320.05,368.29 L321.0,370.07 L321.9,369.62 L322.8,370.25 L323.75,372.88 L324.7,373.37 L325.65,373.86 L326.6,374.05 L327.55,375.79 L328.5,377.79 L329.4,379.68 L330.3,379.97 L331.25,383.24 L332.2,383.44 L333.15,386.07 L334.1,387.49 L335.9,388.82 L336.92,388.78 L337.94,389.24 L338.96,388.99 L339.98,389.37 L341,389.3 L341,390 Z" fill="#e3bdb5" stroke="none"/>
<path d="M284.9,387.71 L285.93,386.14 L286.97,385.63 L288.0,385.49 L289.25,382.79 L290.5,380.23 L291.7,378.19 L293.0,376.59 L293.9,373.35 L294.8,370.29 L296.1,364.67 L297.3,355.52 L298.6,348.26 L299.8,341.07 L301.1,337.2 L302.3,341.6 L303.5,351.94 L304.8,361.39 L306.0,369.78 L306.95,371.46 L307.9,371.85 L308.85,371.45 L309.8,370.46 L310.7,372.35 L311.6,373.02 L312.55,372.2 L313.5,371.23 L314.45,371.59 L315.4,371.78 L316.3,370.11 L317.2,367.73 L318.15,367.72 L319.1,368.04 L320.05,368.29 L321.0,370.07 L321.9,369.62 L322.8,370.25 L323.75,372.88 L324.7,373.37 L325.65,373.86 L326.6,374.05 L327.55,375.79 L328.5,377.79 L329.4,379.68 L330.3,379.97 L331.25,383.24 L332.2,383.44 L333.15,386.07 L334.1,387.49 L335.9,388.82 L336.92,388.78 L337.94,389.24 L338.96,388.99 L339.98,389.37 L341,389.3 L341.3,389.2" fill="none" stroke="#862033" stroke-width="1.05" stroke-linejoin="round"/>
<rect x="283.2" y="336.6" width="59.10000000000002" height="53.39999999999998" fill="none" stroke="#000" stroke-width="1.5"/>
<line x1="280.4" y1="390.0" x2="283.2" y2="390.0" stroke="#111" stroke-width="1.0"/>
<text transform="translate(277.9,391.95) scale(1,1.05)" font-size="5.8" text-anchor="end" fill="#222" stroke="#222" stroke-width="0.2">0</text>
<line x1="280.4" y1="376.72" x2="283.2" y2="376.72" stroke="#111" stroke-width="1.0"/>
<text transform="translate(277.9,378.67) scale(1,1.05)" font-size="5.8" text-anchor="end" fill="#222" stroke="#222" stroke-width="0.2">50</text>
<line x1="280.4" y1="363.44" x2="283.2" y2="363.44" stroke="#111" stroke-width="1.0"/>
<text transform="translate(277.9,365.39) scale(1,1.05)" font-size="5.8" text-anchor="end" fill="#222" stroke="#222" stroke-width="0.2">100</text>
<line x1="280.4" y1="350.16" x2="283.2" y2="350.16" stroke="#111" stroke-width="1.0"/>
<text transform="translate(277.9,352.11) scale(1,1.05)" font-size="5.8" text-anchor="end" fill="#222" stroke="#222" stroke-width="0.2">150</text>
<line x1="280.4" y1="336.88" x2="283.2" y2="336.88" stroke="#111" stroke-width="1.0"/>
<text transform="translate(277.9,338.83) scale(1,1.05)" font-size="5.8" text-anchor="end" fill="#222" stroke="#222" stroke-width="0.2">200</text>
<line x1="291.0" y1="390" x2="291.0" y2="392.6" stroke="#222" stroke-width="0.9"/>
<text x="290.4" y="402.8" font-size="5.8" text-anchor="middle" fill="#222" stroke="#222" stroke-width="0.2">10<tspan font-size="4.0" dy="-2.4">2</tspan></text>
<line x1="295.57565593409254" y1="390" x2="295.57565593409254" y2="391.3" stroke="#444" stroke-width="0.6"/>
<line x1="298.25224307173886" y1="390" x2="298.25224307173886" y2="391.3" stroke="#444" stroke-width="0.6"/>
<line x1="300.151311868185" y1="390" x2="300.151311868185" y2="391.3" stroke="#444" stroke-width="0.6"/>
<line x1="301.6243440659075" y1="390" x2="301.6243440659075" y2="391.3" stroke="#444" stroke-width="0.6"/>
<line x1="302.8278990058314" y1="390" x2="302.8278990058314" y2="391.3" stroke="#444" stroke-width="0.6"/>
<line x1="303.8454902082167" y1="390" x2="303.8454902082167" y2="391.3" stroke="#444" stroke-width="0.6"/>
<line x1="304.72696780227756" y1="390" x2="304.72696780227756" y2="391.3" stroke="#444" stroke-width="0.6"/>
<line x1="305.5044861434777" y1="390" x2="305.5044861434777" y2="391.3" stroke="#444" stroke-width="0.6"/>
<line x1="306.2" y1="390" x2="306.2" y2="392.6" stroke="#222" stroke-width="0.9"/>
<text x="305.59999999999997" y="402.8" font-size="5.8" text-anchor="middle" fill="#222" stroke="#222" stroke-width="0.2">10<tspan font-size="4.0" dy="-2.4">3</tspan></text>
<line x1="310.7756559340925" y1="390" x2="310.7756559340925" y2="391.3" stroke="#444" stroke-width="0.6"/>
<line x1="313.45224307173885" y1="390" x2="313.45224307173885" y2="391.3" stroke="#444" stroke-width="0.6"/>
<line x1="315.351311868185" y1="390" x2="315.351311868185" y2="391.3" stroke="#444" stroke-width="0.6"/>
<line x1="316.8243440659075" y1="390" x2="316.8243440659075" y2="391.3" stroke="#444" stroke-width="0.6"/>
<line x1="318.0278990058314" y1="390" x2="318.0278990058314" y2="391.3" stroke="#444" stroke-width="0.6"/>
<line x1="319.0454902082167" y1="390" x2="319.0454902082167" y2="391.3" stroke="#444" stroke-width="0.6"/>
<line x1="319.92696780227755" y1="390" x2="319.92696780227755" y2="391.3" stroke="#444" stroke-width="0.6"/>
<line x1="320.7044861434777" y1="390" x2="320.7044861434777" y2="391.3" stroke="#444" stroke-width="0.6"/>
<line x1="321.4" y1="390" x2="321.4" y2="392.6" stroke="#222" stroke-width="0.9"/>
<text x="320.79999999999995" y="402.8" font-size="5.8" text-anchor="middle" fill="#222" stroke="#222" stroke-width="0.2">10<tspan font-size="4.0" dy="-2.4">4</tspan></text>
<line x1="325.9756559340925" y1="390" x2="325.9756559340925" y2="391.3" stroke="#444" stroke-width="0.6"/>
<line x1="328.65224307173884" y1="390" x2="328.65224307173884" y2="391.3" stroke="#444" stroke-width="0.6"/>
<line x1="330.551311868185" y1="390" x2="330.551311868185" y2="391.3" stroke="#444" stroke-width="0.6"/>
<line x1="332.0243440659075" y1="390" x2="332.0243440659075" y2="391.3" stroke="#444" stroke-width="0.6"/>
<line x1="333.2278990058314" y1="390" x2="333.2278990058314" y2="391.3" stroke="#444" stroke-width="0.6"/>
<line x1="334.24549020821667" y1="390" x2="334.24549020821667" y2="391.3" stroke="#444" stroke-width="0.6"/>
<line x1="335.12696780227753" y1="390" x2="335.12696780227753" y2="391.3" stroke="#444" stroke-width="0.6"/>
<line x1="335.9044861434777" y1="390" x2="335.9044861434777" y2="391.3" stroke="#444" stroke-width="0.6"/>
<line x1="336.6" y1="390" x2="336.6" y2="392.6" stroke="#222" stroke-width="0.9"/>
<text x="336.0" y="402.8" font-size="5.8" text-anchor="middle" fill="#222" stroke="#222" stroke-width="0.2">10<tspan font-size="4.0" dy="-2.4">5</tspan></text>
<line x1="315.7" y1="360.2" x2="315.7" y2="371.5" stroke="#000" stroke-width="1.3"/>
<line x1="315.7" y1="366.4" x2="342.3" y2="366.4" stroke="#000" stroke-width="1.3"/>
<text transform="translate(317.9,362.7) scale(1,1.0)" font-size="7.4" text-anchor="start" fill="#222" textLength="21.4" lengthAdjust="spacingAndGlyphs" stroke="#222" stroke-width="0.2">40.1%</text>
<path d="M374.1,390 L374.0,387.13 L374.5,385.85 L375.45,385.92 L376.4,384.16 L377.3,382.76 L378.2,381.34 L379.5,378.95 L380.4,378.08 L381.3,378.62 L382.6,374.34 L383.8,366.62 L385.1,359.22 L386.3,354.09 L387.6,347.89 L388.8,340.69 L390.1,337.2 L391.3,345.34 L392.5,355.62 L393.8,368.97 L395.0,379.05 L396.3,385.77 L397.25,387.16 L398.2,388.51 L399.11,388.54 L400.02,388.75 L400.92,388.46 L401.83,388.8 L402.74,388.56 L403.65,389.03 L404.55,389.05 L405.46,389.03 L406.37,388.94 L407.28,389.19 L408.18,389.03 L409.09,389.27 L410.0,389.19 L410.91,389.2 L411.83,389.29 L412.74,389.46 L413.65,389.0 L414.57,389.1 L415.48,389.26 L416.39,389.16 L417.3,389.06 L418.22,389.31 L419.13,389.04 L420.04,389.17 L420.96,389.27 L421.87,389.39 L422.78,389.16 L423.7,389.02 L424.61,389.33 L425.52,389.3 L426.43,389.04 L427.35,389.1 L428.26,389.07 L429.17,389.06 L430.09,389.5 L431,389.3 L431,390 Z" fill="#e3bdb5" stroke="none"/>
<path d="M374.0,387.13 L374.5,385.85 L375.45,385.92 L376.4,384.16 L377.3,382.76 L378.2,381.34 L379.5,378.95 L380.4,378.08 L381.3,378.62 L382.6,374.34 L383.8,366.62 L385.1,359.22 L386.3,354.09 L387.6,347.89 L388.8,340.69 L390.1,337.2 L391.3,345.34 L392.5,355.62 L393.8,368.97 L395.0,379.05 L396.3,385.77 L397.25,387.16 L398.2,388.51 L399.11,388.54 L400.02,388.75 L400.92,388.46 L401.83,388.8 L402.74,388.56 L403.65,389.03 L404.55,389.05 L405.46,389.03 L406.37,388.94 L407.28,389.19 L408.18,389.03 L409.09,389.27 L410.0,389.19 L410.91,389.2 L411.83,389.29 L412.74,389.46 L413.65,389.0 L414.57,389.1 L415.48,389.26 L416.39,389.16 L417.3,389.06 L418.22,389.31 L419.13,389.04 L420.04,389.17 L420.96,389.27 L421.87,389.39 L422.78,389.16 L423.7,389.02 L424.61,389.33 L425.52,389.3 L426.43,389.04 L427.35,389.1 L428.26,389.07 L429.17,389.06 L430.09,389.5 L431,389.3 L430.9,389.2" fill="none" stroke="#862033" stroke-width="1.05" stroke-linejoin="round"/>
<rect x="373.3" y="336.6" width="58.599999999999966" height="53.39999999999998" fill="none" stroke="#000" stroke-width="1.5"/>
<line x1="370.5" y1="390.0" x2="373.3" y2="390.0" stroke="#111" stroke-width="1.0"/>
<text transform="translate(368.0,391.95) scale(1,1.05)" font-size="5.8" text-anchor="end" fill="#222" stroke="#222" stroke-width="0.2">0</text>
<line x1="370.5" y1="373.3" x2="373.3" y2="373.3" stroke="#111" stroke-width="1.0"/>
<text transform="translate(368.0,375.25) scale(1,1.05)" font-size="5.8" text-anchor="end" fill="#222" stroke="#222" stroke-width="0.2">50</text>
<line x1="370.5" y1="356.6" x2="373.3" y2="356.6" stroke="#111" stroke-width="1.0"/>
<text transform="translate(368.0,358.55) scale(1,1.05)" font-size="5.8" text-anchor="end" fill="#222" stroke="#222" stroke-width="0.2">100</text>
<line x1="370.5" y1="339.9" x2="373.3" y2="339.9" stroke="#111" stroke-width="1.0"/>
<text transform="translate(368.0,341.84999999999997) scale(1,1.05)" font-size="5.8" text-anchor="end" fill="#222" stroke="#222" stroke-width="0.2">150</text>
<line x1="381.1" y1="390" x2="381.1" y2="392.6" stroke="#222" stroke-width="0.9"/>
<text x="380.5" y="402.8" font-size="5.8" text-anchor="middle" fill="#222" stroke="#222" stroke-width="0.2">10<tspan font-size="4.0" dy="-2.4">2</tspan></text>
<line x1="385.67565593409256" y1="390" x2="385.67565593409256" y2="391.3" stroke="#444" stroke-width="0.6"/>
<line x1="388.3522430717389" y1="390" x2="388.3522430717389" y2="391.3" stroke="#444" stroke-width="0.6"/>
<line x1="390.25131186818504" y1="390" x2="390.25131186818504" y2="391.3" stroke="#444" stroke-width="0.6"/>
<line x1="391.72434406590753" y1="390" x2="391.72434406590753" y2="391.3" stroke="#444" stroke-width="0.6"/>
<line x1="392.9278990058314" y1="390" x2="392.9278990058314" y2="391.3" stroke="#444" stroke-width="0.6"/>
<line x1="393.9454902082167" y1="390" x2="393.9454902082167" y2="391.3" stroke="#444" stroke-width="0.6"/>
<line x1="394.8269678022776" y1="390" x2="394.8269678022776" y2="391.3" stroke="#444" stroke-width="0.6"/>
<line x1="395.60448614347774" y1="390" x2="395.60448614347774" y2="391.3" stroke="#444" stroke-width="0.6"/>
<line x1="396.3" y1="390" x2="396.3" y2="392.6" stroke="#222" stroke-width="0.9"/>
<text x="395.7" y="402.8" font-size="5.8" text-anchor="middle" fill="#222" stroke="#222" stroke-width="0.2">10<tspan font-size="4.0" dy="-2.4">3</tspan></text>
<line x1="400.87565593409255" y1="390" x2="400.87565593409255" y2="391.3" stroke="#444" stroke-width="0.6"/>
<line x1="403.55224307173887" y1="390" x2="403.55224307173887" y2="391.3" stroke="#444" stroke-width="0.6"/>
<line x1="405.45131186818503" y1="390" x2="405.45131186818503" y2="391.3" stroke="#444" stroke-width="0.6"/>
<line x1="406.9243440659075" y1="390" x2="406.9243440659075" y2="391.3" stroke="#444" stroke-width="0.6"/>
<line x1="408.1278990058314" y1="390" x2="408.1278990058314" y2="391.3" stroke="#444" stroke-width="0.6"/>
<line x1="409.1454902082167" y1="390" x2="409.1454902082167" y2="391.3" stroke="#444" stroke-width="0.6"/>
<line x1="410.02696780227757" y1="390" x2="410.02696780227757" y2="391.3" stroke="#444" stroke-width="0.6"/>
<line x1="410.80448614347773" y1="390" x2="410.80448614347773" y2="391.3" stroke="#444" stroke-width="0.6"/>
<line x1="411.5" y1="390" x2="411.5" y2="392.6" stroke="#222" stroke-width="0.9"/>
<text x="410.9" y="402.8" font-size="5.8" text-anchor="middle" fill="#222" stroke="#222" stroke-width="0.2">10<tspan font-size="4.0" dy="-2.4">4</tspan></text>
<line x1="416.07565593409254" y1="390" x2="416.07565593409254" y2="391.3" stroke="#444" stroke-width="0.6"/>
<line x1="418.75224307173886" y1="390" x2="418.75224307173886" y2="391.3" stroke="#444" stroke-width="0.6"/>
<line x1="420.651311868185" y1="390" x2="420.651311868185" y2="391.3" stroke="#444" stroke-width="0.6"/>
<line x1="422.1243440659075" y1="390" x2="422.1243440659075" y2="391.3" stroke="#444" stroke-width="0.6"/>
<line x1="423.3278990058314" y1="390" x2="423.3278990058314" y2="391.3" stroke="#444" stroke-width="0.6"/>
<line x1="424.3454902082167" y1="390" x2="424.3454902082167" y2="391.3" stroke="#444" stroke-width="0.6"/>
<line x1="425.22696780227756" y1="390" x2="425.22696780227756" y2="391.3" stroke="#444" stroke-width="0.6"/>
<line x1="426.0044861434777" y1="390" x2="426.0044861434777" y2="391.3" stroke="#444" stroke-width="0.6"/>
<line x1="426.70000000000005" y1="390" x2="426.70000000000005" y2="392.6" stroke="#222" stroke-width="0.9"/>
<text x="426.1" y="402.8" font-size="5.8" text-anchor="middle" fill="#222" stroke="#222" stroke-width="0.2">10<tspan font-size="4.0" dy="-2.4">5</tspan></text>
<line x1="406.0" y1="360.2" x2="406.0" y2="372.2" stroke="#000" stroke-width="1.3"/>
<line x1="406.0" y1="366.4" x2="431.9" y2="366.4" stroke="#000" stroke-width="1.3"/>
<text transform="translate(412.2,363.0) scale(1,1.0)" font-size="7.4" text-anchor="start" fill="#222" textLength="16.8" lengthAdjust="spacingAndGlyphs" stroke="#222" stroke-width="0.2">1.1%</text>
<path d="M452.3,390 L452.9,387.98 L453.93,387.13 L454.97,386.6 L456.0,385.15 L457.25,382.69 L458.5,380.84 L459.75,378.72 L461.0,375.29 L461.9,371.59 L462.8,367.96 L464.1,360.34 L465.3,349.08 L466.6,342.13 L467.8,339.54 L468.7,337.2 L469.7,340.47 L470.9,350.55 L472.2,361.25 L473.4,368.0 L474.35,371.34 L475.3,375.06 L476.25,376.31 L477.2,376.98 L478.1,378.38 L479.0,378.52 L479.95,378.63 L480.9,378.66 L481.85,377.66 L482.8,377.97 L483.7,377.78 L484.6,377.2 L485.85,377.24 L487.1,377.13 L488.35,379.05 L489.6,379.39 L490.85,378.64 L492.1,380.43 L493.35,381.32 L494.6,381.78 L495.85,382.53 L497.1,382.34 L498.35,384.17 L499.6,384.88 L501.4,388.0 L502.35,388.56 L503.3,388.75 L504.25,389.02 L505.2,389.01 L506.15,389.12 L507.1,389.32 L508.05,389.0 L509,389.3 L509,390 Z" fill="#e3bdb5" stroke="none"/>
<path d="M452.9,387.98 L453.93,387.13 L454.97,386.6 L456.0,385.15 L457.25,382.69 L458.5,380.84 L459.75,378.72 L461.0,375.29 L461.9,371.59 L462.8,367.96 L464.1,360.34 L465.3,349.08 L466.6,342.13 L467.8,339.54 L468.7,337.2 L469.7,340.47 L470.9,350.55 L472.2,361.25 L473.4,368.0 L474.35,371.34 L475.3,375.06 L476.25,376.31 L477.2,376.98 L478.1,378.38 L479.0,378.52 L479.95,378.63 L480.9,378.66 L481.85,377.66 L482.8,377.97 L483.7,377.78 L484.6,377.2 L485.85,377.24 L487.1,377.13 L488.35,379.05 L489.6,379.39 L490.85,378.64 L492.1,380.43 L493.35,381.32 L494.6,381.78 L495.85,382.53 L497.1,382.34 L498.35,384.17 L499.6,384.88 L501.4,388.0 L502.35,388.56 L503.3,388.75 L504.25,389.02 L505.2,389.01 L506.15,389.12 L507.1,389.32 L508.05,389.0 L509,389.3 L509.4,389.2" fill="none" stroke="#862033" stroke-width="1.05" stroke-linejoin="round"/>
<rect x="451.5" y="336.6" width="58.89999999999998" height="53.39999999999998" fill="none" stroke="#000" stroke-width="1.5"/>
<line x1="448.7" y1="390.0" x2="451.5" y2="390.0" stroke="#111" stroke-width="1.0"/>
<text transform="translate(446.2,391.95) scale(1,1.05)" font-size="5.8" text-anchor="end" fill="#222" stroke="#222" stroke-width="0.2">0</text>
<line x1="448.7" y1="378.1" x2="451.5" y2="378.1" stroke="#111" stroke-width="1.0"/>
<text transform="translate(446.2,380.05) scale(1,1.05)" font-size="5.8" text-anchor="end" fill="#222" stroke="#222" stroke-width="0.2">50</text>
<line x1="448.7" y1="366.2" x2="451.5" y2="366.2" stroke="#111" stroke-width="1.0"/>
<text transform="translate(446.2,368.15) scale(1,1.05)" font-size="5.8" text-anchor="end" fill="#222" stroke="#222" stroke-width="0.2">100</text>
<line x1="448.7" y1="354.3" x2="451.5" y2="354.3" stroke="#111" stroke-width="1.0"/>
<text transform="translate(446.2,356.25) scale(1,1.05)" font-size="5.8" text-anchor="end" fill="#222" stroke="#222" stroke-width="0.2">150</text>
<line x1="448.7" y1="342.4" x2="451.5" y2="342.4" stroke="#111" stroke-width="1.0"/>
<text transform="translate(446.2,344.34999999999997) scale(1,1.05)" font-size="5.8" text-anchor="end" fill="#222" stroke="#222" stroke-width="0.2">200</text>
<line x1="459.3" y1="390" x2="459.3" y2="392.6" stroke="#222" stroke-width="0.9"/>
<text x="458.7" y="402.8" font-size="5.8" text-anchor="middle" fill="#222" stroke="#222" stroke-width="0.2">10<tspan font-size="4.0" dy="-2.4">2</tspan></text>
<line x1="463.87565593409255" y1="390" x2="463.87565593409255" y2="391.3" stroke="#444" stroke-width="0.6"/>
<line x1="466.55224307173887" y1="390" x2="466.55224307173887" y2="391.3" stroke="#444" stroke-width="0.6"/>
<line x1="468.45131186818503" y1="390" x2="468.45131186818503" y2="391.3" stroke="#444" stroke-width="0.6"/>
<line x1="469.9243440659075" y1="390" x2="469.9243440659075" y2="391.3" stroke="#444" stroke-width="0.6"/>
<line x1="471.1278990058314" y1="390" x2="471.1278990058314" y2="391.3" stroke="#444" stroke-width="0.6"/>
<line x1="472.1454902082167" y1="390" x2="472.1454902082167" y2="391.3" stroke="#444" stroke-width="0.6"/>
<line x1="473.02696780227757" y1="390" x2="473.02696780227757" y2="391.3" stroke="#444" stroke-width="0.6"/>
<line x1="473.80448614347773" y1="390" x2="473.80448614347773" y2="391.3" stroke="#444" stroke-width="0.6"/>
<line x1="474.5" y1="390" x2="474.5" y2="392.6" stroke="#222" stroke-width="0.9"/>
<text x="473.9" y="402.8" font-size="5.8" text-anchor="middle" fill="#222" stroke="#222" stroke-width="0.2">10<tspan font-size="4.0" dy="-2.4">3</tspan></text>
<line x1="479.07565593409254" y1="390" x2="479.07565593409254" y2="391.3" stroke="#444" stroke-width="0.6"/>
<line x1="481.75224307173886" y1="390" x2="481.75224307173886" y2="391.3" stroke="#444" stroke-width="0.6"/>
<line x1="483.651311868185" y1="390" x2="483.651311868185" y2="391.3" stroke="#444" stroke-width="0.6"/>
<line x1="485.1243440659075" y1="390" x2="485.1243440659075" y2="391.3" stroke="#444" stroke-width="0.6"/>
<line x1="486.3278990058314" y1="390" x2="486.3278990058314" y2="391.3" stroke="#444" stroke-width="0.6"/>
<line x1="487.3454902082167" y1="390" x2="487.3454902082167" y2="391.3" stroke="#444" stroke-width="0.6"/>
<line x1="488.22696780227756" y1="390" x2="488.22696780227756" y2="391.3" stroke="#444" stroke-width="0.6"/>
<line x1="489.0044861434777" y1="390" x2="489.0044861434777" y2="391.3" stroke="#444" stroke-width="0.6"/>
<line x1="489.7" y1="390" x2="489.7" y2="392.6" stroke="#222" stroke-width="0.9"/>
<text x="489.09999999999997" y="402.8" font-size="5.8" text-anchor="middle" fill="#222" stroke="#222" stroke-width="0.2">10<tspan font-size="4.0" dy="-2.4">4</tspan></text>
<line x1="494.2756559340925" y1="390" x2="494.2756559340925" y2="391.3" stroke="#444" stroke-width="0.6"/>
<line x1="496.95224307173885" y1="390" x2="496.95224307173885" y2="391.3" stroke="#444" stroke-width="0.6"/>
<line x1="498.851311868185" y1="390" x2="498.851311868185" y2="391.3" stroke="#444" stroke-width="0.6"/>
<line x1="500.3243440659075" y1="390" x2="500.3243440659075" y2="391.3" stroke="#444" stroke-width="0.6"/>
<line x1="501.5278990058314" y1="390" x2="501.5278990058314" y2="391.3" stroke="#444" stroke-width="0.6"/>
<line x1="502.5454902082167" y1="390" x2="502.5454902082167" y2="391.3" stroke="#444" stroke-width="0.6"/>
<line x1="503.42696780227755" y1="390" x2="503.42696780227755" y2="391.3" stroke="#444" stroke-width="0.6"/>
<line x1="504.2044861434777" y1="390" x2="504.2044861434777" y2="391.3" stroke="#444" stroke-width="0.6"/>
<line x1="504.9" y1="390" x2="504.9" y2="392.6" stroke="#222" stroke-width="0.9"/>
<text x="504.29999999999995" y="402.8" font-size="5.8" text-anchor="middle" fill="#222" stroke="#222" stroke-width="0.2">10<tspan font-size="4.0" dy="-2.4">5</tspan></text>
<line x1="483.4" y1="360.5" x2="483.4" y2="373.0" stroke="#000" stroke-width="1.3"/>
<line x1="483.4" y1="366.4" x2="510.4" y2="366.4" stroke="#000" stroke-width="1.3"/>
<text transform="translate(486.2,363.0) scale(1,1.0)" font-size="7.4" text-anchor="start" fill="#222" textLength="21.4" lengthAdjust="spacingAndGlyphs" stroke="#222" stroke-width="0.2">40.3%</text>
<text transform="translate(271.6,322.6) scale(1,1.05)" font-size="9.3" text-anchor="middle" fill="#1e1e1e" textLength="48.5" lengthAdjust="spacingAndGlyphs" stroke="#222" stroke-width="0.2">Donor NK 1</text>
<text transform="translate(271.9,413.5) scale(1,1.05)" font-size="9.4" text-anchor="middle" fill="#1e1e1e" textLength="50" lengthAdjust="spacingAndGlyphs" stroke="#222" stroke-width="0.2">Donor NK 2</text>
<line x1="33.8" y1="420.8" x2="502" y2="420.8" stroke="#111" stroke-width="1.6"/>
<path d="M510.8,420.8 L499.8,416.3 L502.5,420.8 L499.8,425.3 Z" fill="#111"/>
<text transform="translate(267.05,433.2) scale(1,1.0)" font-size="9.5" text-anchor="middle" fill="#1e1e1e" textLength="35.1" lengthAdjust="spacingAndGlyphs" stroke="#222" stroke-width="0.2">CD107a</text>
</svg></div></body></html>
